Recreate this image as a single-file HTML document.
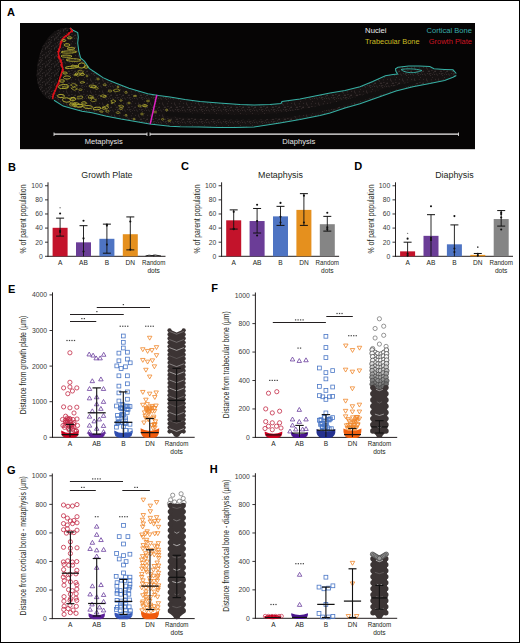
<!DOCTYPE html>
<html><head><meta charset="utf-8"><title>Figure</title>
<style>
html,body{margin:0;padding:0;background:#fff;}
body{width:520px;height:643px;overflow:hidden;position:relative;}
#fig{position:absolute;left:0;top:0;width:520px;height:643px;box-sizing:border-box;border:1px solid #000;}
svg{position:absolute;left:0;top:0;}
text{font-family:"Liberation Sans", sans-serif;}
</style></head>
<body><div id="fig"></div>
<svg width="520" height="643" viewBox="0 0 520 643" font-family='"Liberation Sans", sans-serif'>
<text x="7.00" y="16.20" font-size="11" font-weight="bold" fill="#000">A</text>
<rect x="20.00" y="23.00" width="455.00" height="126.20" fill="#060505" />
<defs><pattern id="epi" width="9" height="9" patternUnits="userSpaceOnUse"><circle cx="4.2" cy="3.4" r="0.6" fill="#363030"/><circle cx="1.2" cy="7.8" r="0.6" fill="#363030"/><circle cx="0.1" cy="4.5" r="0.6" fill="#363030"/><circle cx="8.1" cy="0.7" r="0.6" fill="#363030"/><circle cx="5.0" cy="5.5" r="0.6" fill="#363030"/><circle cx="0.4" cy="3.4" r="0.6" fill="#363030"/><circle cx="6.3" cy="4.1" r="0.6" fill="#363030"/><circle cx="6.5" cy="1.4" r="0.6" fill="#363030"/><circle cx="2.1" cy="1.0" r="0.6" fill="#363030"/><circle cx="4.6" cy="8.3" r="0.6" fill="#363030"/><circle cx="5.3" cy="7.0" r="0.6" fill="#363030"/><circle cx="3.5" cy="6.7" r="0.6" fill="#363030"/><circle cx="0.9" cy="2.6" r="0.6" fill="#363030"/><circle cx="6.1" cy="6.5" r="0.6" fill="#363030"/><circle cx="3.8" cy="0.8" r="0.6" fill="#363030"/><circle cx="2.4" cy="1.9" r="0.6" fill="#363030"/></pattern></defs>
<path d="M70,28 C64,27 58,29 54,32 C47,38 42,46 40,54 C37,62 36,72 37,80 C38,88 42,95 48,99 L53,100 L56,86 L59,75 L61,62 L60,50 L63,40 Z" fill="#141111"/>
<path d="M70,28 C64,27 58,29 54,32 C47,38 42,46 40,54 C37,62 36,72 37,80 C38,88 42,95 48,99 L53,100 L56,86 L59,75 L61,62 L60,50 L63,40 Z" fill="url(#epi)"/>
<path d="M70.2,28.0 L73.0,30.3 L77.7,32.6 L78.3,37.2 L77.7,43.0 L78.8,51.1 L80.6,58.0 L84.6,61.4 L89.2,68.4 L96.1,73.0 L103.0,77.6 L108.7,80.3 L115.5,83.0 L129.0,88.3 L147.8,93.7 L158.6,95.6 L170.0,97.0 L185.0,99.5 L200.0,101.5 L219.0,103.0 L240.0,104.5 L254.0,105.0 L270.0,104.5 L281.0,103.5 L282.0,101.5 L300.0,99.0 L315.0,96.0 L330.0,93.0 L345.0,90.5 L360.0,86.7 L372.7,81.4 L385.4,75.7 L393.0,74.5 L397.5,74.0 L395.8,71.0 L395.5,68.8 L398.0,67.3 L408.7,66.0 L419.2,66.0 L429.8,66.6 L434.0,68.8 L444.6,69.4 L453.0,69.8 L456.3,73.5 L456.3,75.5 L453.0,77.2 L444.6,80.4 L429.8,83.6 L412.9,86.7 L396.0,91.0 L381.2,96.3 L360.0,103.7 L345.0,108.0 L330.0,113.0 L320.0,115.5 L300.0,119.5 L280.0,123.0 L254.0,127.0 L235.0,127.5 L219.0,127.5 L200.0,127.0 L180.0,126.7 L169.9,126.3 L149.7,124.0 L135.3,121.4 L120.9,119.1 L106.5,116.2 L92.0,112.7 L82.0,111.3 L71.9,108.4 L63.2,106.1 L54.0,100.3 L52.5,99.0 L53.2,96.0 L53.5,93.7 L55.5,90.0 L56.7,87.0 L58.0,84.0 L59.4,80.0 L60.4,76.4 L61.5,73.0 L62.2,71.0 L62.7,68.4 L61.8,65.0 L61.5,62.6 L60.2,60.0 L59.2,56.8 L58.4,54.0 L58.7,51.1 L59.6,48.0 L60.4,45.3 L61.2,42.0 L62.1,39.5 L64.5,37.0 L67.3,34.9 L69.5,33.0 L71.9,30.9 L70.2,28.0 Z" fill="#161212"/>
<defs><pattern id="nuc" width="12" height="12" patternUnits="userSpaceOnUse"><circle cx="7.5" cy="8.9" r="0.5" fill="#3e3434"/><circle cx="9.5" cy="11.3" r="0.5" fill="#3e3434"/><circle cx="8.9" cy="11.1" r="0.5" fill="#3e3434"/><circle cx="0.3" cy="5.6" r="0.5" fill="#3e3434"/><circle cx="11.3" cy="7.8" r="0.5" fill="#3e3434"/><circle cx="10.8" cy="1.4" r="0.5" fill="#3e3434"/><circle cx="5.6" cy="3.0" r="0.5" fill="#3e3434"/><circle cx="6.5" cy="6.9" r="0.5" fill="#3e3434"/><circle cx="0.2" cy="2.6" r="0.5" fill="#3e3434"/><circle cx="3.4" cy="11.0" r="0.5" fill="#3e3434"/><circle cx="9.2" cy="1.9" r="0.5" fill="#3e3434"/><circle cx="9.6" cy="1.7" r="0.5" fill="#3e3434"/><circle cx="7.4" cy="1.5" r="0.5" fill="#3e3434"/><circle cx="0.0" cy="10.5" r="0.5" fill="#3e3434"/><circle cx="2.5" cy="2.6" r="0.5" fill="#3e3434"/><circle cx="11.8" cy="10.5" r="0.5" fill="#3e3434"/><circle cx="3.5" cy="11.5" r="0.5" fill="#3e3434"/><circle cx="6.5" cy="8.1" r="0.5" fill="#3e3434"/><circle cx="2.5" cy="11.3" r="0.5" fill="#3e3434"/><circle cx="8.3" cy="11.6" r="0.5" fill="#3e3434"/><circle cx="10.7" cy="3.6" r="0.5" fill="#3e3434"/><circle cx="4.3" cy="2.0" r="0.5" fill="#3e3434"/><circle cx="1.7" cy="0.8" r="0.5" fill="#3e3434"/><circle cx="3.6" cy="7.2" r="0.5" fill="#3e3434"/></pattern></defs>
<path d="M70.2,28.0 L73.0,30.3 L77.7,32.6 L78.3,37.2 L77.7,43.0 L78.8,51.1 L80.6,58.0 L84.6,61.4 L89.2,68.4 L96.1,73.0 L103.0,77.6 L108.7,80.3 L115.5,83.0 L129.0,88.3 L147.8,93.7 L158.6,95.6 L170.0,97.0 L185.0,99.5 L200.0,101.5 L219.0,103.0 L240.0,104.5 L254.0,105.0 L270.0,104.5 L281.0,103.5 L282.0,101.5 L300.0,99.0 L315.0,96.0 L330.0,93.0 L345.0,90.5 L360.0,86.7 L372.7,81.4 L385.4,75.7 L393.0,74.5 L397.5,74.0 L395.8,71.0 L395.5,68.8 L398.0,67.3 L408.7,66.0 L419.2,66.0 L429.8,66.6 L434.0,68.8 L444.6,69.4 L453.0,69.8 L456.3,73.5 L456.3,75.5 L453.0,77.2 L444.6,80.4 L429.8,83.6 L412.9,86.7 L396.0,91.0 L381.2,96.3 L360.0,103.7 L345.0,108.0 L330.0,113.0 L320.0,115.5 L300.0,119.5 L280.0,123.0 L254.0,127.0 L235.0,127.5 L219.0,127.5 L200.0,127.0 L180.0,126.7 L169.9,126.3 L149.7,124.0 L135.3,121.4 L120.9,119.1 L106.5,116.2 L92.0,112.7 L82.0,111.3 L71.9,108.4 L63.2,106.1 L54.0,100.3 L52.5,99.0 L53.2,96.0 L53.5,93.7 L55.5,90.0 L56.7,87.0 L58.0,84.0 L59.4,80.0 L60.4,76.4 L61.5,73.0 L62.2,71.0 L62.7,68.4 L61.8,65.0 L61.5,62.6 L60.2,60.0 L59.2,56.8 L58.4,54.0 L58.7,51.1 L59.6,48.0 L60.4,45.3 L61.2,42.0 L62.1,39.5 L64.5,37.0 L67.3,34.9 L69.5,33.0 L71.9,30.9 L70.2,28.0 Z" fill="url(#nuc)"/>
<path d="M165,112 C200,114 240,116 270,114 C300,111 330,104 360,96 C380,90 400,84 420,80 L420,82 C400,88 380,95 360,101 C330,110 300,117 270,119 C240,121 200,119 165,116 Z" fill="#110f0f"/>
<path d="M70.2,28.0 L73.0,30.3 L77.7,32.6 L78.3,37.2 L77.7,43.0 L78.8,51.1 L80.6,58.0 L84.6,61.4 L89.2,68.4 L96.1,73.0 L103.0,77.6 L108.7,80.3 L115.5,83.0 L129.0,88.3 L147.8,93.7 L158.6,95.6 L170.0,97.0 L185.0,99.5 L200.0,101.5 L219.0,103.0 L240.0,104.5 L254.0,105.0 L270.0,104.5 L281.0,103.5 L282.0,101.5 L300.0,99.0 L315.0,96.0 L330.0,93.0 L345.0,90.5 L360.0,86.7 L372.7,81.4 L385.4,75.7 L393.0,74.5 L397.5,74.0 L395.8,71.0 L395.5,68.8 L398.0,67.3 L408.7,66.0 L419.2,66.0 L429.8,66.6 L434.0,68.8 L444.6,69.4 L453.0,69.8 L456.3,73.5" fill="none" stroke="#36b0a4" stroke-width="1.05"/>
<path d="M456.3,75.5 L453.0,77.2 L444.6,80.4 L429.8,83.6 L412.9,86.7 L396.0,91.0 L381.2,96.3 L360.0,103.7 L345.0,108.0 L330.0,113.0 L320.0,115.5 L300.0,119.5 L280.0,123.0 L254.0,127.0 L235.0,127.5 L219.0,127.5 L200.0,127.0 L180.0,126.7 L169.9,126.3 L149.7,124.0 L135.3,121.4 L120.9,119.1 L106.5,116.2 L92.0,112.7 L82.0,111.3 L71.9,108.4 L63.2,106.1 L54.0,100.3" fill="none" stroke="#36b0a4" stroke-width="1.05"/>
<path d="M401,69.5 C405,73.5 416,73.5 422,70.5 C415,68.5 406,68.5 401,69.5 Z" fill="none" stroke="#36b0a4" stroke-width="0.9"/>
<path d="M52.5,99.0 L53.2,96.0 L53.5,93.7 L55.5,90.0 L56.7,87.0 L58.0,84.0 L59.4,80.0 L60.4,76.4 L61.5,73.0 L62.2,71.0 L62.7,68.4 L61.8,65.0 L61.5,62.6 L60.2,60.0 L59.2,56.8 L58.4,54.0 L58.7,51.1 L59.6,48.0 L60.4,45.3 L61.2,42.0 L62.1,39.5 L64.5,37.0 L67.3,34.9 L69.5,33.0 L71.9,30.9 L70.2,28.0" fill="none" stroke="#d8121a" stroke-width="1.5"/>
<circle cx="52.8" cy="96.6" r="0.7" fill="#d8121a"/>
<circle cx="52.5" cy="96.5" r="0.8" fill="#d8121a"/>
<circle cx="53.5" cy="94.7" r="0.7" fill="#d8121a"/>
<circle cx="53.4" cy="94.5" r="1.0" fill="#d8121a"/>
<circle cx="54.3" cy="93.6" r="0.7" fill="#d8121a"/>
<circle cx="55.1" cy="90.7" r="1.0" fill="#d8121a"/>
<circle cx="55.4" cy="89.5" r="0.6" fill="#d8121a"/>
<circle cx="56.5" cy="87.7" r="0.7" fill="#d8121a"/>
<circle cx="56.3" cy="86.4" r="0.7" fill="#d8121a"/>
<circle cx="57.3" cy="85.3" r="1.0" fill="#d8121a"/>
<circle cx="58.6" cy="83.7" r="1.1" fill="#d8121a"/>
<circle cx="59.4" cy="81.0" r="1.0" fill="#d8121a"/>
<circle cx="59.4" cy="79.7" r="0.6" fill="#d8121a"/>
<circle cx="60.2" cy="77.2" r="0.7" fill="#d8121a"/>
<circle cx="61.3" cy="74.9" r="0.9" fill="#d8121a"/>
<circle cx="61.2" cy="76.0" r="0.6" fill="#d8121a"/>
<circle cx="62.8" cy="71.3" r="1.0" fill="#d8121a"/>
<circle cx="62.2" cy="71.1" r="0.7" fill="#d8121a"/>
<circle cx="62.8" cy="69.8" r="1.0" fill="#d8121a"/>
<circle cx="63.1" cy="70.0" r="0.6" fill="#d8121a"/>
<circle cx="61.5" cy="66.7" r="0.8" fill="#d8121a"/>
<circle cx="61.2" cy="65.0" r="1.1" fill="#d8121a"/>
<circle cx="61.8" cy="62.8" r="0.6" fill="#d8121a"/>
<circle cx="62.0" cy="63.9" r="0.6" fill="#d8121a"/>
<circle cx="60.5" cy="61.8" r="1.0" fill="#d8121a"/>
<circle cx="61.0" cy="60.2" r="1.0" fill="#d8121a"/>
<circle cx="58.9" cy="58.2" r="0.8" fill="#d8121a"/>
<circle cx="59.8" cy="57.6" r="0.6" fill="#d8121a"/>
<circle cx="58.5" cy="56.8" r="1.1" fill="#d8121a"/>
<circle cx="58.9" cy="56.5" r="0.8" fill="#d8121a"/>
<circle cx="58.1" cy="51.4" r="0.7" fill="#d8121a"/>
<circle cx="58.0" cy="51.8" r="0.7" fill="#d8121a"/>
<circle cx="59.5" cy="51.0" r="0.7" fill="#d8121a"/>
<circle cx="59.0" cy="49.5" r="1.1" fill="#d8121a"/>
<circle cx="60.3" cy="46.1" r="0.8" fill="#d8121a"/>
<circle cx="60.4" cy="47.3" r="0.7" fill="#d8121a"/>
<circle cx="60.6" cy="43.2" r="0.7" fill="#d8121a"/>
<circle cx="60.3" cy="43.8" r="0.9" fill="#d8121a"/>
<circle cx="60.5" cy="41.8" r="0.7" fill="#d8121a"/>
<circle cx="61.9" cy="41.8" r="0.9" fill="#d8121a"/>
<circle cx="64.2" cy="37.8" r="0.7" fill="#d8121a"/>
<circle cx="64.2" cy="37.1" r="0.8" fill="#d8121a"/>
<circle cx="66.2" cy="36.0" r="1.0" fill="#d8121a"/>
<circle cx="65.6" cy="36.6" r="0.8" fill="#d8121a"/>
<circle cx="68.4" cy="34.4" r="1.0" fill="#d8121a"/>
<circle cx="68.9" cy="33.3" r="1.1" fill="#d8121a"/>
<circle cx="72.1" cy="31.4" r="1.0" fill="#d8121a"/>
<circle cx="71.9" cy="30.9" r="1.0" fill="#d8121a"/>
<ellipse cx="69.6" cy="37.8" rx="2.3" ry="1.0" fill="none" stroke="#b3ad30" stroke-width="0.9" transform="rotate(-3.1 69.6 37.8)"/>
<ellipse cx="67" cy="45" rx="3" ry="1.3" fill="none" stroke="#b3ad30" stroke-width="0.9" transform="rotate(0.5 67 45)"/>
<ellipse cx="68.8" cy="52" rx="7.8" ry="1.1" fill="none" stroke="#b3ad30" stroke-width="0.9" transform="rotate(-1.6 68.8 52)"/>
<ellipse cx="66.5" cy="56.2" rx="5.5" ry="1.1" fill="none" stroke="#b3ad30" stroke-width="0.9" transform="rotate(1.2 66.5 56.2)"/>
<ellipse cx="73.5" cy="60" rx="7.5" ry="1.3" fill="none" stroke="#b3ad30" stroke-width="0.9" transform="rotate(1.5 73.5 60)"/>
<ellipse cx="72" cy="67.2" rx="7" ry="1.1" fill="none" stroke="#b3ad30" stroke-width="0.9" transform="rotate(-5.2 72 67.2)"/>
<ellipse cx="81.7" cy="65.5" rx="3.5" ry="2.6" fill="none" stroke="#b3ad30" stroke-width="0.9" transform="rotate(-5.8 81.7 65.5)"/>
<ellipse cx="65" cy="73" rx="2.3" ry="1.0" fill="none" stroke="#b3ad30" stroke-width="0.9" transform="rotate(4.0 65 73)"/>
<ellipse cx="76.5" cy="74" rx="1.2" ry="1" fill="none" stroke="#b3ad30" stroke-width="0.9" transform="rotate(-2.9 76.5 74)"/>
<ellipse cx="82.3" cy="74.4" rx="2.3" ry="0.9" fill="none" stroke="#b3ad30" stroke-width="0.9" transform="rotate(-3.2 82.3 74.4)"/>
<ellipse cx="64" cy="40.5" rx="1.8" ry="0.9" fill="none" stroke="#b3ad30" stroke-width="0.9" transform="rotate(5.9 64 40.5)"/>
<ellipse cx="71" cy="48.5" rx="4" ry="0.9" fill="none" stroke="#b3ad30" stroke-width="0.9" transform="rotate(-0.4 71 48.5)"/>
<ellipse cx="86" cy="67" rx="2" ry="1.2" fill="none" stroke="#b3ad30" stroke-width="0.9" transform="rotate(4.0 86 67)"/>
<ellipse cx="67" cy="77.5" rx="3.5" ry="1.6" fill="none" stroke="#b3ad30" stroke-width="0.9" transform="rotate(-0.3 67 77.5)"/>
<ellipse cx="62" cy="81" rx="2.5" ry="1.2" fill="none" stroke="#b3ad30" stroke-width="0.9" transform="rotate(1.7 62 81)"/>
<ellipse cx="63.5" cy="86.5" rx="5" ry="2" fill="none" stroke="#b3ad30" stroke-width="0.9" transform="rotate(-4.2 63.5 86.5)"/>
<ellipse cx="61" cy="96" rx="3.5" ry="1.6" fill="none" stroke="#b3ad30" stroke-width="0.9" transform="rotate(1.6 61 96)"/>
<ellipse cx="66.5" cy="100" rx="4" ry="2.2" fill="none" stroke="#b3ad30" stroke-width="0.9" transform="rotate(4.4 66.5 100)"/>
<ellipse cx="73" cy="99" rx="3" ry="1.5" fill="none" stroke="#b3ad30" stroke-width="0.9" transform="rotate(0.3 73 99)"/>
<ellipse cx="78" cy="105.5" rx="5.5" ry="1.5" fill="none" stroke="#b3ad30" stroke-width="0.9" transform="rotate(2.9 78 105.5)"/>
<ellipse cx="88" cy="107" rx="4.5" ry="1.5" fill="none" stroke="#b3ad30" stroke-width="0.9" transform="rotate(2.1 88 107)"/>
<ellipse cx="97" cy="108.5" rx="4" ry="1.3" fill="none" stroke="#b3ad30" stroke-width="0.9" transform="rotate(-5.2 97 108.5)"/>
<ellipse cx="84" cy="103" rx="2.5" ry="1.2" fill="none" stroke="#b3ad30" stroke-width="0.9" transform="rotate(3.1 84 103)"/>
<ellipse cx="75" cy="75" rx="1.4" ry="0.7" fill="none" stroke="#b3ad30" stroke-width="0.6"/>
<ellipse cx="87" cy="76" rx="0.9" ry="0.9" fill="none" stroke="#b3ad30" stroke-width="0.6"/>
<ellipse cx="98" cy="79" rx="1.3" ry="0.9" fill="none" stroke="#b3ad30" stroke-width="0.6"/>
<ellipse cx="96.6" cy="88.3" rx="1.7" ry="0.9" fill="none" stroke="#b3ad30" stroke-width="0.6"/>
<ellipse cx="80.4" cy="89.7" rx="1.7" ry="0.8" fill="none" stroke="#b3ad30" stroke-width="0.6"/>
<ellipse cx="104.7" cy="84.8" rx="1.6" ry="0.8" fill="none" stroke="#b3ad30" stroke-width="0.6"/>
<ellipse cx="110" cy="91" rx="1.7" ry="1.0" fill="none" stroke="#b3ad30" stroke-width="0.6"/>
<ellipse cx="118" cy="87" rx="1.0" ry="0.7" fill="none" stroke="#b3ad30" stroke-width="0.6"/>
<ellipse cx="126" cy="92.4" rx="1.1" ry="1.0" fill="none" stroke="#b3ad30" stroke-width="0.6"/>
<ellipse cx="104.7" cy="96.4" rx="1.3" ry="0.9" fill="none" stroke="#b3ad30" stroke-width="0.6"/>
<ellipse cx="91.2" cy="97.8" rx="1.2" ry="0.8" fill="none" stroke="#b3ad30" stroke-width="0.6"/>
<ellipse cx="121" cy="100.5" rx="1.2" ry="0.7" fill="none" stroke="#b3ad30" stroke-width="0.6"/>
<ellipse cx="129" cy="103" rx="1.4" ry="0.8" fill="none" stroke="#b3ad30" stroke-width="0.6"/>
<ellipse cx="139.7" cy="105.9" rx="1.7" ry="0.9" fill="none" stroke="#b3ad30" stroke-width="0.6"/>
<ellipse cx="121" cy="108.6" rx="1.7" ry="0.9" fill="none" stroke="#b3ad30" stroke-width="0.6"/>
<ellipse cx="118" cy="112.6" rx="1.8" ry="0.9" fill="none" stroke="#b3ad30" stroke-width="0.6"/>
<ellipse cx="126" cy="115.3" rx="1.0" ry="0.9" fill="none" stroke="#b3ad30" stroke-width="0.6"/>
<ellipse cx="107.4" cy="111.2" rx="1.8" ry="1.0" fill="none" stroke="#b3ad30" stroke-width="0.6"/>
<ellipse cx="142" cy="114" rx="1.4" ry="0.9" fill="none" stroke="#b3ad30" stroke-width="0.6"/>
<ellipse cx="162.6" cy="119.3" rx="1.1" ry="0.9" fill="none" stroke="#b3ad30" stroke-width="0.6"/>
<ellipse cx="169.4" cy="120.7" rx="1.4" ry="0.7" fill="none" stroke="#b3ad30" stroke-width="0.6"/>
<ellipse cx="166.7" cy="110" rx="1.0" ry="0.9" fill="none" stroke="#b3ad30" stroke-width="0.6"/>
<ellipse cx="135" cy="96" rx="1.8" ry="0.6" fill="none" stroke="#b3ad30" stroke-width="0.6"/>
<ellipse cx="148" cy="101" rx="1.6" ry="0.8" fill="none" stroke="#b3ad30" stroke-width="0.6"/>
<ellipse cx="112" cy="103" rx="1.0" ry="0.7" fill="none" stroke="#b3ad30" stroke-width="0.6"/>
<ellipse cx="155" cy="112" rx="1.6" ry="0.9" fill="none" stroke="#b3ad30" stroke-width="0.6"/>
<ellipse cx="134" cy="119" rx="0.9" ry="0.8" fill="none" stroke="#b3ad30" stroke-width="0.6"/>
<polygon points="76.2,105.2 73.3,105.9 70.1,105.8 69.3,104.1 73.8,103.7" fill="none" stroke="#b3ad30" stroke-width="0.65" stroke-linejoin="round"/>
<polygon points="108.7,105.1 107.8,105.5 106.6,105.6 106.8,104.8 108.2,104.4" fill="none" stroke="#b3ad30" stroke-width="0.65" stroke-linejoin="round"/>
<polygon points="79.3,104.0 77.0,104.7 74.4,105.3 72.4,104.1 75.4,102.5 77.4,102.6" fill="none" stroke="#b3ad30" stroke-width="0.65" stroke-linejoin="round"/>
<polygon points="106.6,96.0 103.9,97.4 100.1,96.0 102.9,94.7" fill="none" stroke="#b3ad30" stroke-width="0.65" stroke-linejoin="round"/>
<polygon points="77.6,89.0 74.2,90.3 71.1,88.2 74.6,87.3" fill="none" stroke="#b3ad30" stroke-width="0.65" stroke-linejoin="round"/>
<polygon points="74.6,66.5 74.2,67.1 72.1,67.1 70.9,66.6 72.0,64.9 74.4,65.4" fill="none" stroke="#b3ad30" stroke-width="0.65" stroke-linejoin="round"/>
<polygon points="108.9,107.1 106.7,109.0 102.2,107.2 106.3,106.0" fill="none" stroke="#b3ad30" stroke-width="0.65" stroke-linejoin="round"/>
<polygon points="84.9,82.4 82.9,83.0 81.7,83.2 79.9,82.4 81.8,81.5 82.9,81.4" fill="none" stroke="#b3ad30" stroke-width="0.65" stroke-linejoin="round"/>
<polygon points="106.4,108.4 104.3,109.5 101.6,108.4 104.6,107.0" fill="none" stroke="#b3ad30" stroke-width="0.65" stroke-linejoin="round"/>
<polygon points="83.6,71.9 81.4,73.1 78.4,72.9 77.8,70.9 81.1,70.1" fill="none" stroke="#b3ad30" stroke-width="0.65" stroke-linejoin="round"/>
<polygon points="77.6,65.9 76.8,66.9 75.2,66.5 74.9,65.8 77.0,65.3" fill="none" stroke="#b3ad30" stroke-width="0.65" stroke-linejoin="round"/>
<polygon points="96.1,86.6 93.7,88.1 90.5,87.0 93.7,85.7" fill="none" stroke="#b3ad30" stroke-width="0.65" stroke-linejoin="round"/>
<polygon points="77.4,85.3 73.5,86.9 70.5,84.9 73.3,83.3" fill="none" stroke="#b3ad30" stroke-width="0.65" stroke-linejoin="round"/>
<polygon points="96.4,99.7 95.4,101.3 92.4,101.7 90.6,100.5 92.5,98.3 94.7,99.1" fill="none" stroke="#b3ad30" stroke-width="0.65" stroke-linejoin="round"/>
<polygon points="147.7,105.7 146.7,106.2 143.7,106.4 144.3,104.6 146.5,104.9" fill="none" stroke="#b3ad30" stroke-width="0.65" stroke-linejoin="round"/>
<polygon points="123.9,106.4 122.1,107.2 119.8,107.0 118.5,105.8 121.4,105.1" fill="none" stroke="#b3ad30" stroke-width="0.65" stroke-linejoin="round"/>
<polygon points="146.5,105.6 145.8,107.1 142.6,106.3 142.0,105.4 143.0,105.0 144.9,104.5" fill="none" stroke="#b3ad30" stroke-width="0.65" stroke-linejoin="round"/>
<polygon points="82.7,97.9 81.6,98.6 77.8,99.0 77.9,97.5 77.6,96.3 82.5,96.2" fill="none" stroke="#b3ad30" stroke-width="0.65" stroke-linejoin="round"/>
<polygon points="103.2,111.5 102.5,112.4 100.2,111.9 99.4,111.2 101.7,110.9" fill="none" stroke="#b3ad30" stroke-width="0.65" stroke-linejoin="round"/>
<polygon points="74.7,98.1 74.0,99.0 72.3,99.1 70.9,98.0 71.9,97.6 74.2,97.3" fill="none" stroke="#b3ad30" stroke-width="0.65" stroke-linejoin="round"/>
<polygon points="116.0,101.2 113.1,102.8 110.7,100.9 113.2,99.7" fill="none" stroke="#b3ad30" stroke-width="0.65" stroke-linejoin="round"/>
<polygon points="68.5,87.4 66.4,88.8 63.3,88.2 62.5,86.7 64.8,86.2 66.9,86.1" fill="none" stroke="#b3ad30" stroke-width="0.65" stroke-linejoin="round"/>
<polygon points="76.1,103.3 74.1,104.3 70.5,104.0 70.1,102.4 73.4,102.1" fill="none" stroke="#b3ad30" stroke-width="0.65" stroke-linejoin="round"/>
<polygon points="96.6,86.2 94.3,87.7 90.4,87.5 89.1,86.1 89.7,85.1 93.5,85.1" fill="none" stroke="#b3ad30" stroke-width="0.65" stroke-linejoin="round"/>
<polygon points="93.8,97.2 91.9,97.8 88.4,98.1 88.4,96.6 89.5,95.3 91.3,95.8" fill="none" stroke="#b3ad30" stroke-width="0.65" stroke-linejoin="round"/>
<polygon points="81.0,74.4 78.7,75.9 77.4,76.2 76.1,75.0 77.5,74.1 79.7,73.9" fill="none" stroke="#b3ad30" stroke-width="0.65" stroke-linejoin="round"/>
<polygon points="83.1,105.5 80.7,107.0 77.7,107.4 76.1,105.5 78.0,104.5 80.9,104.8" fill="none" stroke="#b3ad30" stroke-width="0.65" stroke-linejoin="round"/>
<polygon points="120.1,90.4 118.7,91.0 115.8,91.8 112.9,90.4 115.8,89.2 117.8,89.0" fill="none" stroke="#b3ad30" stroke-width="0.65" stroke-linejoin="round"/>
<line x1="156.80" y1="94.80" x2="150.20" y2="124.20" stroke="#e020c4" stroke-width="1.5" />
<line x1="54.00" y1="134.20" x2="147.00" y2="134.20" stroke="#f2f2f2" stroke-width="1.2" />
<line x1="54.00" y1="132.50" x2="54.00" y2="136.00" stroke="#f2f2f2" stroke-width="0.8" />
<line x1="147.00" y1="132.50" x2="147.00" y2="136.00" stroke="#f2f2f2" stroke-width="0.8" />
<line x1="150.00" y1="134.20" x2="458.50" y2="134.20" stroke="#f2f2f2" stroke-width="1.2" />
<line x1="150.00" y1="132.50" x2="150.00" y2="136.00" stroke="#f2f2f2" stroke-width="0.8" />
<line x1="458.50" y1="132.50" x2="458.50" y2="136.00" stroke="#f2f2f2" stroke-width="0.8" />
<text x="103.80" y="143.90" font-size="7.4" text-anchor="middle" font-weight="normal" fill="#e6e6e6" textLength="38" lengthAdjust="spacingAndGlyphs" >Metaphysis</text>
<text x="298.80" y="144.20" font-size="7.4" text-anchor="middle" font-weight="normal" fill="#e6e6e6" textLength="33" lengthAdjust="spacingAndGlyphs" >Diaphysis</text>
<text x="365.10" y="33.30" font-size="7.5" text-anchor="start" font-weight="normal" fill="#ececec" textLength="21.4" lengthAdjust="spacingAndGlyphs" >Nuclei</text>
<text x="426.50" y="33.30" font-size="7.5" text-anchor="start" font-weight="normal" fill="#3aabaa" textLength="45.4" lengthAdjust="spacingAndGlyphs" >Cortical Bone</text>
<text x="365.10" y="44.20" font-size="7.5" text-anchor="start" font-weight="normal" fill="#cbbd22" textLength="54.4" lengthAdjust="spacingAndGlyphs" >Trabecular Bone</text>
<text x="428.80" y="44.20" font-size="7.5" text-anchor="start" font-weight="normal" fill="#cc1422" textLength="43.1" lengthAdjust="spacingAndGlyphs" >Growth Plate</text>
<text x="8.00" y="170.90" font-size="11" font-weight="bold" fill="#000">B</text>
<text x="181.00" y="170.40" font-size="11" font-weight="bold" fill="#000">C</text>
<text x="354.20" y="170.40" font-size="11" font-weight="bold" fill="#000">D</text>
<line x1="48.00" y1="182.30" x2="48.00" y2="256.80" stroke="#231f20" stroke-width="1.0" />
<line x1="47.50" y1="256.30" x2="165.50" y2="256.30" stroke="#231f20" stroke-width="1.0" />
<line x1="45.00" y1="256.30" x2="48.00" y2="256.30" stroke="#231f20" stroke-width="0.9" />
<text x="42.70" y="258.70" font-size="6.8" text-anchor="end" font-weight="normal" fill="#3a3a3a" >0</text>
<line x1="45.00" y1="242.19" x2="48.00" y2="242.19" stroke="#231f20" stroke-width="0.9" />
<text x="42.70" y="244.59" font-size="6.8" text-anchor="end" font-weight="normal" fill="#3a3a3a" >20</text>
<line x1="45.00" y1="228.08" x2="48.00" y2="228.08" stroke="#231f20" stroke-width="0.9" />
<text x="42.70" y="230.48" font-size="6.8" text-anchor="end" font-weight="normal" fill="#3a3a3a" >40</text>
<line x1="45.00" y1="213.97" x2="48.00" y2="213.97" stroke="#231f20" stroke-width="0.9" />
<text x="42.70" y="216.37" font-size="6.8" text-anchor="end" font-weight="normal" fill="#3a3a3a" >60</text>
<line x1="45.00" y1="199.86" x2="48.00" y2="199.86" stroke="#231f20" stroke-width="0.9" />
<text x="42.70" y="202.26" font-size="6.8" text-anchor="end" font-weight="normal" fill="#3a3a3a" >80</text>
<line x1="45.00" y1="185.75" x2="48.00" y2="185.75" stroke="#231f20" stroke-width="0.9" />
<text x="42.70" y="188.15" font-size="6.8" text-anchor="end" font-weight="normal" fill="#3a3a3a" >100</text>
<text transform="translate(26.40,219.00) rotate(-90)" font-size="8.4" text-anchor="middle" fill="#231f20" textLength="69" lengthAdjust="spacingAndGlyphs">% of parent population</text>
<text x="106.90" y="177.50" font-size="8.9" text-anchor="middle" font-weight="normal" fill="#231f20" >Growth Plate</text>
<rect x="52.60" y="227.80" width="15.00" height="28.50" fill="#c3132b" />
<line x1="60.10" y1="218.13" x2="60.10" y2="236.12" stroke="#111" stroke-width="0.9" />
<line x1="56.10" y1="218.13" x2="64.10" y2="218.13" stroke="#111" stroke-width="1.0" />
<line x1="56.10" y1="236.12" x2="64.10" y2="236.12" stroke="#111" stroke-width="1.0" />
<circle cx="60.10" cy="207.69" r="0.7" fill="#777"/>
<circle cx="60.10" cy="213.48" r="1.05" fill="#111"/>
<circle cx="60.10" cy="230.90" r="1.05" fill="#111"/>
<circle cx="60.10" cy="231.96" r="1.05" fill="#111"/>
<text x="60.10" y="264.80" font-size="6.6" text-anchor="middle" font-weight="normal" fill="#231f20" >A</text>
<rect x="76.00" y="242.33" width="15.00" height="13.97" fill="#6b3d97" />
<line x1="83.50" y1="225.68" x2="83.50" y2="256.30" stroke="#111" stroke-width="0.9" />
<line x1="79.50" y1="225.68" x2="87.50" y2="225.68" stroke="#111" stroke-width="1.0" />
<circle cx="83.50" cy="220.81" r="1.05" fill="#111"/>
<circle cx="83.50" cy="238.38" r="1.05" fill="#111"/>
<circle cx="83.50" cy="251.50" r="1.05" fill="#111"/>
<text x="83.50" y="264.80" font-size="6.6" text-anchor="middle" font-weight="normal" fill="#231f20" >AB</text>
<rect x="99.40" y="238.80" width="15.00" height="17.50" fill="#4e74c3" />
<line x1="106.90" y1="224.13" x2="106.90" y2="253.20" stroke="#111" stroke-width="0.9" />
<line x1="102.90" y1="224.13" x2="110.90" y2="224.13" stroke="#111" stroke-width="1.0" />
<line x1="102.90" y1="253.20" x2="110.90" y2="253.20" stroke="#111" stroke-width="1.0" />
<circle cx="106.90" cy="224.55" r="1.05" fill="#111"/>
<circle cx="106.90" cy="225.61" r="1.05" fill="#111"/>
<circle cx="106.90" cy="244.59" r="1.05" fill="#111"/>
<text x="106.90" y="264.80" font-size="6.6" text-anchor="middle" font-weight="normal" fill="#231f20" >B</text>
<rect x="122.80" y="234.22" width="15.00" height="22.08" fill="#e5901e" />
<line x1="130.30" y1="216.93" x2="130.30" y2="249.88" stroke="#111" stroke-width="0.9" />
<line x1="126.30" y1="216.93" x2="134.30" y2="216.93" stroke="#111" stroke-width="1.0" />
<line x1="126.30" y1="249.88" x2="134.30" y2="249.88" stroke="#111" stroke-width="1.0" />
<circle cx="130.30" cy="221.52" r="1.05" fill="#111"/>
<circle cx="130.30" cy="249.60" r="1.05" fill="#111"/>
<text x="130.30" y="264.80" font-size="6.6" text-anchor="middle" font-weight="normal" fill="#231f20" >DN</text>
<circle cx="153.70" cy="255.74" r="0.8" fill="#222"/>
<circle cx="153.70" cy="255.45" r="0.7" fill="#222"/>
<text x="153.70" y="264.80" font-size="6.6" text-anchor="middle" font-weight="normal" fill="#231f20" textLength="23.5" lengthAdjust="spacingAndGlyphs" >Random</text>
<text x="153.70" y="272.70" font-size="6.6" text-anchor="middle" font-weight="normal" fill="#231f20" >dots</text>
<path d="M145.5,256 L149,255.2 L152,255.6 L155,255 L158,255.5 L161,256" stroke="#222" stroke-width="1" fill="none"/>
<line x1="221.60" y1="182.30" x2="221.60" y2="256.80" stroke="#231f20" stroke-width="1.0" />
<line x1="221.10" y1="256.30" x2="339.10" y2="256.30" stroke="#231f20" stroke-width="1.0" />
<line x1="218.60" y1="256.30" x2="221.60" y2="256.30" stroke="#231f20" stroke-width="0.9" />
<text x="216.30" y="258.70" font-size="6.8" text-anchor="end" font-weight="normal" fill="#3a3a3a" >0</text>
<line x1="218.60" y1="242.19" x2="221.60" y2="242.19" stroke="#231f20" stroke-width="0.9" />
<text x="216.30" y="244.59" font-size="6.8" text-anchor="end" font-weight="normal" fill="#3a3a3a" >20</text>
<line x1="218.60" y1="228.08" x2="221.60" y2="228.08" stroke="#231f20" stroke-width="0.9" />
<text x="216.30" y="230.48" font-size="6.8" text-anchor="end" font-weight="normal" fill="#3a3a3a" >40</text>
<line x1="218.60" y1="213.97" x2="221.60" y2="213.97" stroke="#231f20" stroke-width="0.9" />
<text x="216.30" y="216.37" font-size="6.8" text-anchor="end" font-weight="normal" fill="#3a3a3a" >60</text>
<line x1="218.60" y1="199.86" x2="221.60" y2="199.86" stroke="#231f20" stroke-width="0.9" />
<text x="216.30" y="202.26" font-size="6.8" text-anchor="end" font-weight="normal" fill="#3a3a3a" >80</text>
<line x1="218.60" y1="185.75" x2="221.60" y2="185.75" stroke="#231f20" stroke-width="0.9" />
<text x="216.30" y="188.15" font-size="6.8" text-anchor="end" font-weight="normal" fill="#3a3a3a" >100</text>
<text transform="translate(200.00,219.00) rotate(-90)" font-size="8.4" text-anchor="middle" fill="#231f20" textLength="69" lengthAdjust="spacingAndGlyphs">% of parent population</text>
<text x="280.50" y="177.50" font-size="8.9" text-anchor="middle" font-weight="normal" fill="#231f20" >Metaphysis</text>
<rect x="226.20" y="220.32" width="15.00" height="35.98" fill="#c3132b" />
<line x1="233.70" y1="209.88" x2="233.70" y2="229.07" stroke="#111" stroke-width="0.9" />
<line x1="229.70" y1="209.88" x2="237.70" y2="209.88" stroke="#111" stroke-width="1.0" />
<line x1="229.70" y1="229.07" x2="237.70" y2="229.07" stroke="#111" stroke-width="1.0" />
<circle cx="233.70" cy="211.85" r="1.05" fill="#111"/>
<circle cx="233.70" cy="228.79" r="1.05" fill="#111"/>
<circle cx="233.70" cy="229.14" r="1.05" fill="#111"/>
<text x="233.70" y="264.80" font-size="6.6" text-anchor="middle" font-weight="normal" fill="#231f20" >A</text>
<rect x="249.60" y="221.03" width="15.00" height="35.28" fill="#6b3d97" />
<line x1="257.10" y1="208.47" x2="257.10" y2="233.02" stroke="#111" stroke-width="0.9" />
<line x1="253.10" y1="208.47" x2="261.10" y2="208.47" stroke="#111" stroke-width="1.0" />
<line x1="253.10" y1="233.02" x2="261.10" y2="233.02" stroke="#111" stroke-width="1.0" />
<circle cx="257.10" cy="204.80" r="1.05" fill="#111"/>
<circle cx="257.10" cy="221.03" r="1.05" fill="#111"/>
<circle cx="257.10" cy="235.49" r="1.05" fill="#111"/>
<text x="257.10" y="264.80" font-size="6.6" text-anchor="middle" font-weight="normal" fill="#231f20" >AB</text>
<rect x="273.00" y="216.37" width="15.00" height="39.93" fill="#4e74c3" />
<line x1="280.50" y1="206.35" x2="280.50" y2="225.40" stroke="#111" stroke-width="0.9" />
<line x1="276.50" y1="206.35" x2="284.50" y2="206.35" stroke="#111" stroke-width="1.0" />
<line x1="276.50" y1="225.40" x2="284.50" y2="225.40" stroke="#111" stroke-width="1.0" />
<circle cx="280.50" cy="202.89" r="1.05" fill="#111"/>
<circle cx="280.50" cy="216.79" r="1.05" fill="#111"/>
<circle cx="280.50" cy="222.44" r="1.05" fill="#111"/>
<text x="280.50" y="264.80" font-size="6.6" text-anchor="middle" font-weight="normal" fill="#231f20" >B</text>
<rect x="296.40" y="209.88" width="15.00" height="46.42" fill="#e5901e" />
<line x1="303.90" y1="193.65" x2="303.90" y2="225.40" stroke="#111" stroke-width="0.9" />
<line x1="299.90" y1="193.65" x2="307.90" y2="193.65" stroke="#111" stroke-width="1.0" />
<line x1="299.90" y1="225.40" x2="307.90" y2="225.40" stroke="#111" stroke-width="1.0" />
<circle cx="303.90" cy="195.63" r="1.05" fill="#111"/>
<circle cx="303.90" cy="222.44" r="1.05" fill="#111"/>
<text x="303.90" y="264.80" font-size="6.6" text-anchor="middle" font-weight="normal" fill="#231f20" >DN</text>
<rect x="319.80" y="224.20" width="15.00" height="32.10" fill="#858585" />
<line x1="327.30" y1="216.37" x2="327.30" y2="231.11" stroke="#111" stroke-width="0.9" />
<line x1="323.30" y1="216.37" x2="331.30" y2="216.37" stroke="#111" stroke-width="1.0" />
<line x1="323.30" y1="231.11" x2="331.30" y2="231.11" stroke="#111" stroke-width="1.0" />
<circle cx="327.30" cy="212.70" r="1.05" fill="#111"/>
<circle cx="327.30" cy="227.37" r="1.05" fill="#111"/>
<circle cx="327.30" cy="229.14" r="1.05" fill="#111"/>
<text x="327.30" y="264.80" font-size="6.6" text-anchor="middle" font-weight="normal" fill="#231f20" textLength="23.5" lengthAdjust="spacingAndGlyphs" >Random</text>
<text x="327.30" y="272.70" font-size="6.6" text-anchor="middle" font-weight="normal" fill="#231f20" >dots</text>
<line x1="395.50" y1="182.30" x2="395.50" y2="256.80" stroke="#231f20" stroke-width="1.0" />
<line x1="395.00" y1="256.30" x2="513.00" y2="256.30" stroke="#231f20" stroke-width="1.0" />
<line x1="392.50" y1="256.30" x2="395.50" y2="256.30" stroke="#231f20" stroke-width="0.9" />
<text x="390.20" y="258.70" font-size="6.8" text-anchor="end" font-weight="normal" fill="#3a3a3a" >0</text>
<line x1="392.50" y1="242.19" x2="395.50" y2="242.19" stroke="#231f20" stroke-width="0.9" />
<text x="390.20" y="244.59" font-size="6.8" text-anchor="end" font-weight="normal" fill="#3a3a3a" >20</text>
<line x1="392.50" y1="228.08" x2="395.50" y2="228.08" stroke="#231f20" stroke-width="0.9" />
<text x="390.20" y="230.48" font-size="6.8" text-anchor="end" font-weight="normal" fill="#3a3a3a" >40</text>
<line x1="392.50" y1="213.97" x2="395.50" y2="213.97" stroke="#231f20" stroke-width="0.9" />
<text x="390.20" y="216.37" font-size="6.8" text-anchor="end" font-weight="normal" fill="#3a3a3a" >60</text>
<line x1="392.50" y1="199.86" x2="395.50" y2="199.86" stroke="#231f20" stroke-width="0.9" />
<text x="390.20" y="202.26" font-size="6.8" text-anchor="end" font-weight="normal" fill="#3a3a3a" >80</text>
<line x1="392.50" y1="185.75" x2="395.50" y2="185.75" stroke="#231f20" stroke-width="0.9" />
<text x="390.20" y="188.15" font-size="6.8" text-anchor="end" font-weight="normal" fill="#3a3a3a" >100</text>
<text transform="translate(373.90,219.00) rotate(-90)" font-size="8.4" text-anchor="middle" fill="#231f20" textLength="69" lengthAdjust="spacingAndGlyphs">% of parent population</text>
<text x="454.40" y="177.50" font-size="8.9" text-anchor="middle" font-weight="normal" fill="#231f20" >Diaphysis</text>
<rect x="400.10" y="251.36" width="15.00" height="4.94" fill="#c3132b" />
<line x1="407.60" y1="242.19" x2="407.60" y2="256.30" stroke="#111" stroke-width="0.9" />
<line x1="403.60" y1="242.19" x2="411.60" y2="242.19" stroke="#111" stroke-width="1.0" />
<circle cx="407.60" cy="233.37" r="0.7" fill="#777"/>
<circle cx="407.60" cy="238.66" r="1.05" fill="#111"/>
<circle cx="407.60" cy="253.83" r="1.05" fill="#111"/>
<circle cx="407.60" cy="255.59" r="1.05" fill="#111"/>
<text x="407.60" y="264.80" font-size="6.6" text-anchor="middle" font-weight="normal" fill="#231f20" >A</text>
<rect x="423.50" y="235.84" width="15.00" height="20.46" fill="#6b3d97" />
<line x1="431.00" y1="214.68" x2="431.00" y2="256.30" stroke="#111" stroke-width="0.9" />
<line x1="427.00" y1="214.68" x2="435.00" y2="214.68" stroke="#111" stroke-width="1.0" />
<circle cx="431.00" cy="206.21" r="1.05" fill="#111"/>
<circle cx="431.00" cy="237.96" r="1.05" fill="#111"/>
<circle cx="431.00" cy="240.07" r="1.05" fill="#111"/>
<text x="431.00" y="264.80" font-size="6.6" text-anchor="middle" font-weight="normal" fill="#231f20" >AB</text>
<rect x="446.90" y="244.31" width="15.00" height="11.99" fill="#4e74c3" />
<line x1="454.40" y1="224.91" x2="454.40" y2="256.30" stroke="#111" stroke-width="0.9" />
<line x1="450.40" y1="224.91" x2="458.40" y2="224.91" stroke="#111" stroke-width="1.0" />
<circle cx="454.40" cy="216.09" r="1.05" fill="#111"/>
<circle cx="454.40" cy="248.54" r="1.05" fill="#111"/>
<circle cx="454.40" cy="252.07" r="1.05" fill="#111"/>
<text x="454.40" y="264.80" font-size="6.6" text-anchor="middle" font-weight="normal" fill="#231f20" >B</text>
<rect x="470.30" y="254.89" width="15.00" height="1.41" fill="#e5901e" />
<line x1="477.80" y1="253.48" x2="477.80" y2="256.30" stroke="#111" stroke-width="0.9" />
<line x1="473.80" y1="253.48" x2="481.80" y2="253.48" stroke="#111" stroke-width="1.0" />
<circle cx="477.80" cy="247.13" r="0.8" fill="#333"/>
<circle cx="477.80" cy="253.83" r="1.05" fill="#111"/>
<circle cx="477.80" cy="255.59" r="1.05" fill="#111"/>
<text x="477.80" y="264.80" font-size="6.6" text-anchor="middle" font-weight="normal" fill="#231f20" >DN</text>
<rect x="493.70" y="219.05" width="15.00" height="37.25" fill="#858585" />
<line x1="501.20" y1="210.58" x2="501.20" y2="226.10" stroke="#111" stroke-width="0.9" />
<line x1="497.20" y1="210.58" x2="505.20" y2="210.58" stroke="#111" stroke-width="1.0" />
<line x1="497.20" y1="226.10" x2="505.20" y2="226.10" stroke="#111" stroke-width="1.0" />
<circle cx="501.20" cy="212.56" r="1.05" fill="#111"/>
<circle cx="501.20" cy="213.97" r="1.05" fill="#111"/>
<circle cx="501.20" cy="217.50" r="1.05" fill="#111"/>
<circle cx="501.20" cy="229.49" r="1.05" fill="#111"/>
<text x="501.20" y="264.80" font-size="6.6" text-anchor="middle" font-weight="normal" fill="#231f20" textLength="23.5" lengthAdjust="spacingAndGlyphs" >Random</text>
<text x="501.20" y="272.70" font-size="6.6" text-anchor="middle" font-weight="normal" fill="#231f20" >dots</text>
<text x="8.00" y="292.60" font-size="11" font-weight="bold" fill="#000">E</text>
<line x1="52.50" y1="292.40" x2="52.50" y2="437.80" stroke="#231f20" stroke-width="1.0" />
<line x1="52.00" y1="437.30" x2="194.70" y2="437.30" stroke="#231f20" stroke-width="1.0" />
<line x1="49.50" y1="437.30" x2="52.50" y2="437.30" stroke="#231f20" stroke-width="0.9" />
<text x="47.00" y="439.70" font-size="6.8" text-anchor="end" font-weight="normal" fill="#3a3a3a" >0</text>
<line x1="49.50" y1="401.70" x2="52.50" y2="401.70" stroke="#231f20" stroke-width="0.9" />
<text x="47.00" y="404.10" font-size="6.8" text-anchor="end" font-weight="normal" fill="#3a3a3a" >1000</text>
<line x1="49.50" y1="366.10" x2="52.50" y2="366.10" stroke="#231f20" stroke-width="0.9" />
<text x="47.00" y="368.50" font-size="6.8" text-anchor="end" font-weight="normal" fill="#3a3a3a" >2000</text>
<line x1="49.50" y1="330.50" x2="52.50" y2="330.50" stroke="#231f20" stroke-width="0.9" />
<text x="47.00" y="332.90" font-size="6.8" text-anchor="end" font-weight="normal" fill="#3a3a3a" >3000</text>
<line x1="49.50" y1="294.90" x2="52.50" y2="294.90" stroke="#231f20" stroke-width="0.9" />
<text x="47.00" y="297.30" font-size="6.8" text-anchor="end" font-weight="normal" fill="#3a3a3a" >4000</text>
<text x="70.00" y="446.00" font-size="6.6" text-anchor="middle" font-weight="normal" fill="#231f20" >A</text>
<text x="96.60" y="446.00" font-size="6.6" text-anchor="middle" font-weight="normal" fill="#231f20" >AB</text>
<text x="123.40" y="446.00" font-size="6.6" text-anchor="middle" font-weight="normal" fill="#231f20" >B</text>
<text x="149.90" y="446.00" font-size="6.6" text-anchor="middle" font-weight="normal" fill="#231f20" >DN</text>
<text x="176.60" y="446.00" font-size="6.6" text-anchor="middle" font-weight="normal" fill="#231f20" textLength="23.5" lengthAdjust="spacingAndGlyphs" >Random</text>
<text x="176.60" y="453.90" font-size="6.6" text-anchor="middle" font-weight="normal" fill="#231f20" >dots</text>
<text transform="translate(26.30,365.00) rotate(-90)" font-size="8.4" text-anchor="middle" fill="#231f20" textLength="98.4" lengthAdjust="spacingAndGlyphs">Distance from growth plate (µm)</text>
<line x1="70.00" y1="321.50" x2="96.25" y2="321.50" stroke="#231f20" stroke-width="1.0" />
<rect x="81.22" y="318.00" width="1.3" height="1.2" fill="#444"/>
<rect x="83.72" y="318.00" width="1.3" height="1.2" fill="#444"/>
<line x1="70.00" y1="314.50" x2="123.75" y2="314.50" stroke="#231f20" stroke-width="1.0" />
<rect x="96.22" y="311.00" width="1.3" height="1.2" fill="#444"/>
<line x1="96.75" y1="307.50" x2="150.00" y2="307.50" stroke="#231f20" stroke-width="1.0" />
<rect x="122.72" y="304.00" width="1.3" height="1.2" fill="#444"/>
<rect x="66.35" y="339.90" width="1.3" height="1.2" fill="#444"/>
<rect x="68.85" y="339.90" width="1.3" height="1.2" fill="#444"/>
<rect x="71.35" y="339.90" width="1.3" height="1.2" fill="#444"/>
<rect x="73.85" y="339.90" width="1.3" height="1.2" fill="#444"/>
<rect x="119.60" y="325.65" width="1.3" height="1.2" fill="#444"/>
<rect x="122.10" y="325.65" width="1.3" height="1.2" fill="#444"/>
<rect x="124.60" y="325.65" width="1.3" height="1.2" fill="#444"/>
<rect x="127.10" y="325.65" width="1.3" height="1.2" fill="#444"/>
<rect x="145.10" y="325.65" width="1.3" height="1.2" fill="#444"/>
<rect x="147.60" y="325.65" width="1.3" height="1.2" fill="#444"/>
<rect x="150.10" y="325.65" width="1.3" height="1.2" fill="#444"/>
<rect x="152.60" y="325.65" width="1.3" height="1.2" fill="#444"/>
<path d="M61.20,430.50 Q70.00,435.50 78.80,430.50 Q79.30,437.20 73.96,437.80 L66.04,437.80 Q60.70,437.20 61.20,430.50 Z" fill="#c8001f"/>
<circle cx="69.90" cy="352.80" r="2.1" fill="none" stroke="#c32a45" stroke-width="0.8"/>
<circle cx="69.90" cy="382.30" r="2.1" fill="none" stroke="#c32a45" stroke-width="0.8"/>
<circle cx="63.60" cy="387.90" r="2.1" fill="none" stroke="#c32a45" stroke-width="0.8"/>
<circle cx="69.90" cy="387.00" r="2.1" fill="none" stroke="#c32a45" stroke-width="0.8"/>
<circle cx="76.80" cy="387.90" r="2.1" fill="none" stroke="#c32a45" stroke-width="0.8"/>
<circle cx="67.80" cy="393.70" r="2.1" fill="none" stroke="#c32a45" stroke-width="0.8"/>
<circle cx="72.40" cy="391.00" r="2.1" fill="none" stroke="#c32a45" stroke-width="0.8"/>
<circle cx="63.60" cy="406.90" r="2.1" fill="none" stroke="#c32a45" stroke-width="0.8"/>
<circle cx="69.90" cy="407.80" r="2.1" fill="none" stroke="#c32a45" stroke-width="0.8"/>
<circle cx="76.80" cy="407.20" r="2.1" fill="none" stroke="#c32a45" stroke-width="0.8"/>
<circle cx="74.00" cy="413.00" r="2.1" fill="none" stroke="#c32a45" stroke-width="0.8"/>
<circle cx="65.60" cy="416.20" r="2.1" fill="none" stroke="#c32a45" stroke-width="0.8"/>
<circle cx="62.50" cy="419.50" r="2.1" fill="none" stroke="#c32a45" stroke-width="0.8"/>
<circle cx="77.00" cy="419.00" r="2.1" fill="none" stroke="#c32a45" stroke-width="0.8"/>
<circle cx="70.00" cy="419.20" r="2.1" fill="none" stroke="#c32a45" stroke-width="0.8"/>
<circle cx="66.00" cy="422.00" r="2.1" fill="none" stroke="#c32a45" stroke-width="0.8"/>
<circle cx="74.00" cy="422.50" r="2.1" fill="none" stroke="#c32a45" stroke-width="0.8"/>
<circle cx="63.00" cy="425.50" r="2.1" fill="none" stroke="#c32a45" stroke-width="0.8"/>
<circle cx="77.50" cy="425.50" r="2.1" fill="none" stroke="#c32a45" stroke-width="0.8"/>
<circle cx="69.50" cy="426.00" r="2.1" fill="none" stroke="#c32a45" stroke-width="0.8"/>
<circle cx="70.66" cy="424.37" r="2.1" fill="none" stroke="#c32a45" stroke-width="0.8"/>
<circle cx="69.56" cy="430.11" r="2.1" fill="none" stroke="#c32a45" stroke-width="0.8"/>
<circle cx="70.98" cy="425.06" r="2.1" fill="none" stroke="#c32a45" stroke-width="0.8"/>
<circle cx="70.12" cy="420.84" r="2.1" fill="none" stroke="#c32a45" stroke-width="0.8"/>
<circle cx="73.42" cy="426.58" r="2.1" fill="none" stroke="#c32a45" stroke-width="0.8"/>
<circle cx="68.12" cy="419.55" r="2.1" fill="none" stroke="#c32a45" stroke-width="0.8"/>
<circle cx="72.96" cy="419.50" r="2.1" fill="none" stroke="#c32a45" stroke-width="0.8"/>
<circle cx="64.55" cy="427.35" r="2.1" fill="none" stroke="#c32a45" stroke-width="0.8"/>
<circle cx="76.01" cy="430.79" r="2.1" fill="none" stroke="#c32a45" stroke-width="0.8"/>
<circle cx="71.36" cy="426.87" r="2.1" fill="none" stroke="#c32a45" stroke-width="0.8"/>
<circle cx="65.23" cy="420.46" r="2.1" fill="none" stroke="#c32a45" stroke-width="0.8"/>
<circle cx="65.02" cy="425.32" r="2.1" fill="none" stroke="#c32a45" stroke-width="0.8"/>
<circle cx="67.43" cy="420.92" r="2.1" fill="none" stroke="#c32a45" stroke-width="0.8"/>
<circle cx="69.67" cy="418.56" r="2.1" fill="none" stroke="#c32a45" stroke-width="0.8"/>
<circle cx="73.75" cy="424.22" r="2.1" fill="none" stroke="#c32a45" stroke-width="0.8"/>
<circle cx="71.58" cy="425.21" r="2.1" fill="none" stroke="#c32a45" stroke-width="0.8"/>
<circle cx="71.82" cy="424.96" r="2.1" fill="none" stroke="#c32a45" stroke-width="0.8"/>
<circle cx="67.55" cy="424.43" r="2.1" fill="none" stroke="#c32a45" stroke-width="0.8"/>
<circle cx="76.44" cy="430.97" r="2.1" fill="none" stroke="#c32a45" stroke-width="0.8"/>
<circle cx="72.58" cy="429.11" r="2.1" fill="none" stroke="#c32a45" stroke-width="0.8"/>
<circle cx="67.17" cy="422.60" r="2.1" fill="none" stroke="#c32a45" stroke-width="0.8"/>
<circle cx="65.54" cy="422.25" r="2.1" fill="none" stroke="#c32a45" stroke-width="0.8"/>
<circle cx="68.79" cy="428.23" r="2.1" fill="none" stroke="#c32a45" stroke-width="0.8"/>
<circle cx="68.59" cy="429.19" r="2.1" fill="none" stroke="#c32a45" stroke-width="0.8"/>
<circle cx="74.46" cy="430.51" r="2.1" fill="none" stroke="#c32a45" stroke-width="0.8"/>
<circle cx="67.36" cy="418.02" r="2.1" fill="none" stroke="#c32a45" stroke-width="0.8"/>
<line x1="70.00" y1="424.40" x2="70.00" y2="437.00" stroke="#111" stroke-width="1.1" />
<line x1="65.90" y1="424.40" x2="74.10" y2="424.40" stroke="#111" stroke-width="1.2000000000000002" />
<line x1="61.50" y1="434.60" x2="78.50" y2="434.60" stroke="#111" stroke-width="1.25" />
<path d="M88.10,431.50 Q96.60,436.50 105.10,431.50 Q105.60,437.20 100.42,437.80 L92.77,437.80 Q87.60,437.20 88.10,431.50 Z" fill="#5b1f97"/>
<polygon points="86.95,355.95 91.45,355.95 89.20,352.05" fill="none" stroke="#6a3d9d" stroke-width="0.8" stroke-linejoin="miter"/>
<polygon points="90.85,357.05 95.35,357.05 93.10,353.15" fill="none" stroke="#6a3d9d" stroke-width="0.8" stroke-linejoin="miter"/>
<polygon points="93.95,359.85 98.45,359.85 96.20,355.95" fill="none" stroke="#6a3d9d" stroke-width="0.8" stroke-linejoin="miter"/>
<polygon points="97.85,359.85 102.35,359.85 100.10,355.95" fill="none" stroke="#6a3d9d" stroke-width="0.8" stroke-linejoin="miter"/>
<polygon points="101.45,356.25 105.95,356.25 103.70,352.35" fill="none" stroke="#6a3d9d" stroke-width="0.8" stroke-linejoin="miter"/>
<polygon points="90.05,382.65 94.55,382.65 92.30,378.75" fill="none" stroke="#6a3d9d" stroke-width="0.8" stroke-linejoin="miter"/>
<polygon points="98.65,380.85 103.15,380.85 100.90,376.95" fill="none" stroke="#6a3d9d" stroke-width="0.8" stroke-linejoin="miter"/>
<polygon points="87.25,390.45 91.75,390.45 89.50,386.55" fill="none" stroke="#6a3d9d" stroke-width="0.8" stroke-linejoin="miter"/>
<polygon points="101.25,390.45 105.75,390.45 103.50,386.55" fill="none" stroke="#6a3d9d" stroke-width="0.8" stroke-linejoin="miter"/>
<polygon points="87.25,399.85 91.75,399.85 89.50,395.95" fill="none" stroke="#6a3d9d" stroke-width="0.8" stroke-linejoin="miter"/>
<polygon points="94.45,398.75 98.95,398.75 96.70,394.85" fill="none" stroke="#6a3d9d" stroke-width="0.8" stroke-linejoin="miter"/>
<polygon points="101.25,403.35 105.75,403.35 103.50,399.45" fill="none" stroke="#6a3d9d" stroke-width="0.8" stroke-linejoin="miter"/>
<polygon points="94.45,405.75 98.95,405.75 96.70,401.85" fill="none" stroke="#6a3d9d" stroke-width="0.8" stroke-linejoin="miter"/>
<polygon points="98.65,410.35 103.15,410.35 100.90,406.45" fill="none" stroke="#6a3d9d" stroke-width="0.8" stroke-linejoin="miter"/>
<polygon points="90.05,412.75 94.55,412.75 92.30,408.85" fill="none" stroke="#6a3d9d" stroke-width="0.8" stroke-linejoin="miter"/>
<polygon points="87.25,418.15 91.75,418.15 89.50,414.25" fill="none" stroke="#6a3d9d" stroke-width="0.8" stroke-linejoin="miter"/>
<polygon points="101.25,417.35 105.75,417.35 103.50,413.45" fill="none" stroke="#6a3d9d" stroke-width="0.8" stroke-linejoin="miter"/>
<polygon points="91.95,422.85 96.45,422.85 94.20,418.95" fill="none" stroke="#6a3d9d" stroke-width="0.8" stroke-linejoin="miter"/>
<polygon points="97.05,420.95 101.55,420.95 99.30,417.05" fill="none" stroke="#6a3d9d" stroke-width="0.8" stroke-linejoin="miter"/>
<polygon points="87.25,427.15 91.75,427.15 89.50,423.25" fill="none" stroke="#6a3d9d" stroke-width="0.8" stroke-linejoin="miter"/>
<polygon points="101.25,427.45 105.75,427.45 103.50,423.55" fill="none" stroke="#6a3d9d" stroke-width="0.8" stroke-linejoin="miter"/>
<polygon points="94.45,430.25 98.95,430.25 96.70,426.35" fill="none" stroke="#6a3d9d" stroke-width="0.8" stroke-linejoin="miter"/>
<polygon points="87.25,433.45 91.75,433.45 89.50,429.55" fill="none" stroke="#6a3d9d" stroke-width="0.8" stroke-linejoin="miter"/>
<polygon points="101.25,433.45 105.75,433.45 103.50,429.55" fill="none" stroke="#6a3d9d" stroke-width="0.8" stroke-linejoin="miter"/>
<line x1="96.70" y1="387.90" x2="96.70" y2="434.10" stroke="#111" stroke-width="1.1" />
<line x1="92.50" y1="387.90" x2="100.90" y2="387.90" stroke="#111" stroke-width="1.2000000000000002" />
<line x1="87.70" y1="412.80" x2="105.70" y2="412.80" stroke="#111" stroke-width="1.25" />
<line x1="92.50" y1="434.10" x2="100.90" y2="434.10" stroke="#111" stroke-width="1.2000000000000002" />
<path d="M114.20,430.50 Q123.40,435.50 132.60,430.50 Q133.10,437.20 127.54,437.80 L119.26,437.80 Q113.70,437.20 114.20,430.50 Z" fill="#2f4db0"/>
<rect x="121.40" y="334.10" width="3.8" height="3.8" fill="none" stroke="#4a77c6" stroke-width="0.8"/>
<rect x="121.40" y="340.40" width="3.8" height="3.8" fill="none" stroke="#4a77c6" stroke-width="0.8"/>
<rect x="121.40" y="346.10" width="3.8" height="3.8" fill="none" stroke="#4a77c6" stroke-width="0.8"/>
<rect x="117.00" y="351.20" width="3.8" height="3.8" fill="none" stroke="#4a77c6" stroke-width="0.8"/>
<rect x="125.50" y="350.30" width="3.8" height="3.8" fill="none" stroke="#4a77c6" stroke-width="0.8"/>
<rect x="117.00" y="358.90" width="3.8" height="3.8" fill="none" stroke="#4a77c6" stroke-width="0.8"/>
<rect x="125.50" y="357.20" width="3.8" height="3.8" fill="none" stroke="#4a77c6" stroke-width="0.8"/>
<rect x="128.30" y="360.90" width="3.8" height="3.8" fill="none" stroke="#4a77c6" stroke-width="0.8"/>
<rect x="114.90" y="364.00" width="3.8" height="3.8" fill="none" stroke="#4a77c6" stroke-width="0.8"/>
<rect x="123.50" y="364.90" width="3.8" height="3.8" fill="none" stroke="#4a77c6" stroke-width="0.8"/>
<rect x="119.20" y="366.60" width="3.8" height="3.8" fill="none" stroke="#4a77c6" stroke-width="0.8"/>
<rect x="117.00" y="373.90" width="3.8" height="3.8" fill="none" stroke="#4a77c6" stroke-width="0.8"/>
<rect x="125.50" y="373.90" width="3.8" height="3.8" fill="none" stroke="#4a77c6" stroke-width="0.8"/>
<rect x="125.50" y="381.90" width="3.8" height="3.8" fill="none" stroke="#4a77c6" stroke-width="0.8"/>
<rect x="117.00" y="384.20" width="3.8" height="3.8" fill="none" stroke="#4a77c6" stroke-width="0.8"/>
<rect x="117.00" y="391.00" width="3.8" height="3.8" fill="none" stroke="#4a77c6" stroke-width="0.8"/>
<rect x="125.50" y="390.00" width="3.8" height="3.8" fill="none" stroke="#4a77c6" stroke-width="0.8"/>
<rect x="125.50" y="397.30" width="3.8" height="3.8" fill="none" stroke="#4a77c6" stroke-width="0.8"/>
<rect x="117.00" y="399.10" width="3.8" height="3.8" fill="none" stroke="#4a77c6" stroke-width="0.8"/>
<rect x="114.60" y="404.10" width="3.8" height="3.8" fill="none" stroke="#4a77c6" stroke-width="0.8"/>
<rect x="128.10" y="404.60" width="3.8" height="3.8" fill="none" stroke="#4a77c6" stroke-width="0.8"/>
<rect x="121.10" y="403.10" width="3.8" height="3.8" fill="none" stroke="#4a77c6" stroke-width="0.8"/>
<rect x="123.54" y="415.90" width="3.8" height="3.8" fill="none" stroke="#4a77c6" stroke-width="0.8"/>
<rect x="116.57" y="420.84" width="3.8" height="3.8" fill="none" stroke="#4a77c6" stroke-width="0.8"/>
<rect x="120.16" y="402.56" width="3.8" height="3.8" fill="none" stroke="#4a77c6" stroke-width="0.8"/>
<rect x="125.24" y="410.52" width="3.8" height="3.8" fill="none" stroke="#4a77c6" stroke-width="0.8"/>
<rect x="122.91" y="421.45" width="3.8" height="3.8" fill="none" stroke="#4a77c6" stroke-width="0.8"/>
<rect x="123.65" y="418.08" width="3.8" height="3.8" fill="none" stroke="#4a77c6" stroke-width="0.8"/>
<rect x="120.81" y="406.86" width="3.8" height="3.8" fill="none" stroke="#4a77c6" stroke-width="0.8"/>
<rect x="126.18" y="407.35" width="3.8" height="3.8" fill="none" stroke="#4a77c6" stroke-width="0.8"/>
<rect x="125.01" y="404.21" width="3.8" height="3.8" fill="none" stroke="#4a77c6" stroke-width="0.8"/>
<rect x="123.57" y="404.71" width="3.8" height="3.8" fill="none" stroke="#4a77c6" stroke-width="0.8"/>
<rect x="120.32" y="412.24" width="3.8" height="3.8" fill="none" stroke="#4a77c6" stroke-width="0.8"/>
<rect x="114.50" y="425.24" width="3.8" height="3.8" fill="none" stroke="#4a77c6" stroke-width="0.8"/>
<rect x="126.07" y="404.27" width="3.8" height="3.8" fill="none" stroke="#4a77c6" stroke-width="0.8"/>
<rect x="116.13" y="416.80" width="3.8" height="3.8" fill="none" stroke="#4a77c6" stroke-width="0.8"/>
<rect x="128.27" y="428.79" width="3.8" height="3.8" fill="none" stroke="#4a77c6" stroke-width="0.8"/>
<rect x="120.63" y="405.88" width="3.8" height="3.8" fill="none" stroke="#4a77c6" stroke-width="0.8"/>
<rect x="119.36" y="406.56" width="3.8" height="3.8" fill="none" stroke="#4a77c6" stroke-width="0.8"/>
<rect x="116.92" y="419.70" width="3.8" height="3.8" fill="none" stroke="#4a77c6" stroke-width="0.8"/>
<rect x="115.25" y="421.61" width="3.8" height="3.8" fill="none" stroke="#4a77c6" stroke-width="0.8"/>
<rect x="125.15" y="407.62" width="3.8" height="3.8" fill="none" stroke="#4a77c6" stroke-width="0.8"/>
<rect x="120.47" y="413.95" width="3.8" height="3.8" fill="none" stroke="#4a77c6" stroke-width="0.8"/>
<rect x="121.19" y="419.05" width="3.8" height="3.8" fill="none" stroke="#4a77c6" stroke-width="0.8"/>
<rect x="115.60" y="413.52" width="3.8" height="3.8" fill="none" stroke="#4a77c6" stroke-width="0.8"/>
<rect x="128.07" y="422.35" width="3.8" height="3.8" fill="none" stroke="#4a77c6" stroke-width="0.8"/>
<rect x="123.97" y="428.52" width="3.8" height="3.8" fill="none" stroke="#4a77c6" stroke-width="0.8"/>
<rect x="119.80" y="412.77" width="3.8" height="3.8" fill="none" stroke="#4a77c6" stroke-width="0.8"/>
<rect x="123.92" y="421.44" width="3.8" height="3.8" fill="none" stroke="#4a77c6" stroke-width="0.8"/>
<rect x="118.51" y="405.92" width="3.8" height="3.8" fill="none" stroke="#4a77c6" stroke-width="0.8"/>
<rect x="121.64" y="412.95" width="3.8" height="3.8" fill="none" stroke="#4a77c6" stroke-width="0.8"/>
<rect x="121.50" y="424.44" width="3.8" height="3.8" fill="none" stroke="#4a77c6" stroke-width="0.8"/>
<line x1="123.30" y1="391.90" x2="123.30" y2="437.00" stroke="#111" stroke-width="1.1" />
<line x1="119.10" y1="391.90" x2="127.50" y2="391.90" stroke="#111" stroke-width="1.2000000000000002" />
<line x1="114.30" y1="422.30" x2="132.30" y2="422.30" stroke="#111" stroke-width="1.25" />
<path d="M140.60,428.30 Q149.90,433.90 159.20,428.30 Q159.70,437.20 154.09,437.80 L145.72,437.80 Q140.10,437.20 140.60,428.30 Z" fill="#f05a0c"/>
<polygon points="147.45,336.25 151.95,336.25 149.70,340.15" fill="none" stroke="#f0862a" stroke-width="0.8" stroke-linejoin="miter"/>
<polygon points="140.55,347.75 145.05,347.75 142.80,351.65" fill="none" stroke="#f0862a" stroke-width="0.8" stroke-linejoin="miter"/>
<polygon points="145.35,349.45 149.85,349.45 147.60,353.35" fill="none" stroke="#f0862a" stroke-width="0.8" stroke-linejoin="miter"/>
<polygon points="149.65,348.55 154.15,348.55 151.90,352.45" fill="none" stroke="#f0862a" stroke-width="0.8" stroke-linejoin="miter"/>
<polygon points="154.25,345.65 158.75,345.65 156.50,349.55" fill="none" stroke="#f0862a" stroke-width="0.8" stroke-linejoin="miter"/>
<polygon points="154.25,353.65 158.75,353.65 156.50,357.55" fill="none" stroke="#f0862a" stroke-width="0.8" stroke-linejoin="miter"/>
<polygon points="140.55,358.45 145.05,358.45 142.80,362.35" fill="none" stroke="#f0862a" stroke-width="0.8" stroke-linejoin="miter"/>
<polygon points="145.35,360.15 149.85,360.15 147.60,364.05" fill="none" stroke="#f0862a" stroke-width="0.8" stroke-linejoin="miter"/>
<polygon points="150.15,358.85 154.65,358.85 152.40,362.75" fill="none" stroke="#f0862a" stroke-width="0.8" stroke-linejoin="miter"/>
<polygon points="152.15,364.85 156.65,364.85 154.40,368.75" fill="none" stroke="#f0862a" stroke-width="0.8" stroke-linejoin="miter"/>
<polygon points="143.65,368.25 148.15,368.25 145.90,372.15" fill="none" stroke="#f0862a" stroke-width="0.8" stroke-linejoin="miter"/>
<polygon points="147.45,375.05 151.95,375.05 149.70,378.95" fill="none" stroke="#f0862a" stroke-width="0.8" stroke-linejoin="miter"/>
<polygon points="140.55,390.45 145.05,390.45 142.80,394.35" fill="none" stroke="#f0862a" stroke-width="0.8" stroke-linejoin="miter"/>
<polygon points="147.45,392.15 151.95,392.15 149.70,396.05" fill="none" stroke="#f0862a" stroke-width="0.8" stroke-linejoin="miter"/>
<polygon points="153.95,390.95 158.45,390.95 156.20,394.85" fill="none" stroke="#f0862a" stroke-width="0.8" stroke-linejoin="miter"/>
<polygon points="152.55,395.55 157.05,395.55 154.80,399.45" fill="none" stroke="#f0862a" stroke-width="0.8" stroke-linejoin="miter"/>
<polygon points="143.65,398.15 148.15,398.15 145.90,402.05" fill="none" stroke="#f0862a" stroke-width="0.8" stroke-linejoin="miter"/>
<polygon points="140.55,403.25 145.05,403.25 142.80,407.15" fill="none" stroke="#f0862a" stroke-width="0.8" stroke-linejoin="miter"/>
<polygon points="153.75,404.05 158.25,404.05 156.00,407.95" fill="none" stroke="#f0862a" stroke-width="0.8" stroke-linejoin="miter"/>
<polygon points="150.16,409.46 154.66,409.46 152.41,413.36" fill="none" stroke="#f0862a" stroke-width="0.8" stroke-linejoin="miter"/>
<polygon points="153.14,419.82 157.64,419.82 155.39,423.71" fill="none" stroke="#f0862a" stroke-width="0.8" stroke-linejoin="miter"/>
<polygon points="144.10,407.55 148.60,407.55 146.35,411.44" fill="none" stroke="#f0862a" stroke-width="0.8" stroke-linejoin="miter"/>
<polygon points="144.09,406.51 148.59,406.51 146.34,410.40" fill="none" stroke="#f0862a" stroke-width="0.8" stroke-linejoin="miter"/>
<polygon points="141.75,420.98 146.25,420.98 144.00,424.88" fill="none" stroke="#f0862a" stroke-width="0.8" stroke-linejoin="miter"/>
<polygon points="143.37,416.20 147.87,416.20 145.62,420.10" fill="none" stroke="#f0862a" stroke-width="0.8" stroke-linejoin="miter"/>
<polygon points="146.71,410.38 151.21,410.38 148.96,414.27" fill="none" stroke="#f0862a" stroke-width="0.8" stroke-linejoin="miter"/>
<polygon points="149.43,423.37 153.93,423.37 151.68,427.26" fill="none" stroke="#f0862a" stroke-width="0.8" stroke-linejoin="miter"/>
<polygon points="144.93,402.60 149.43,402.60 147.18,406.50" fill="none" stroke="#f0862a" stroke-width="0.8" stroke-linejoin="miter"/>
<polygon points="152.46,406.50 156.96,406.50 154.71,410.39" fill="none" stroke="#f0862a" stroke-width="0.8" stroke-linejoin="miter"/>
<polygon points="152.64,422.73 157.14,422.73 154.89,426.62" fill="none" stroke="#f0862a" stroke-width="0.8" stroke-linejoin="miter"/>
<polygon points="151.66,423.11 156.16,423.11 153.91,427.01" fill="none" stroke="#f0862a" stroke-width="0.8" stroke-linejoin="miter"/>
<polygon points="152.63,425.91 157.13,425.91 154.88,429.81" fill="none" stroke="#f0862a" stroke-width="0.8" stroke-linejoin="miter"/>
<polygon points="152.39,409.40 156.89,409.40 154.64,413.30" fill="none" stroke="#f0862a" stroke-width="0.8" stroke-linejoin="miter"/>
<polygon points="151.41,415.13 155.91,415.13 153.66,419.03" fill="none" stroke="#f0862a" stroke-width="0.8" stroke-linejoin="miter"/>
<polygon points="146.59,416.99 151.09,416.99 148.84,420.88" fill="none" stroke="#f0862a" stroke-width="0.8" stroke-linejoin="miter"/>
<polygon points="146.66,412.12 151.16,412.12 148.91,416.02" fill="none" stroke="#f0862a" stroke-width="0.8" stroke-linejoin="miter"/>
<polygon points="142.35,410.86 146.85,410.86 144.60,414.76" fill="none" stroke="#f0862a" stroke-width="0.8" stroke-linejoin="miter"/>
<polygon points="152.53,422.95 157.03,422.95 154.78,426.85" fill="none" stroke="#f0862a" stroke-width="0.8" stroke-linejoin="miter"/>
<polygon points="150.92,426.73 155.42,426.73 153.17,430.63" fill="none" stroke="#f0862a" stroke-width="0.8" stroke-linejoin="miter"/>
<polygon points="151.39,416.75 155.89,416.75 153.64,420.65" fill="none" stroke="#f0862a" stroke-width="0.8" stroke-linejoin="miter"/>
<polygon points="149.93,406.17 154.43,406.17 152.18,410.07" fill="none" stroke="#f0862a" stroke-width="0.8" stroke-linejoin="miter"/>
<polygon points="142.95,414.08 147.45,414.08 145.20,417.97" fill="none" stroke="#f0862a" stroke-width="0.8" stroke-linejoin="miter"/>
<polygon points="147.95,407.99 152.45,407.99 150.20,411.89" fill="none" stroke="#f0862a" stroke-width="0.8" stroke-linejoin="miter"/>
<polygon points="147.10,409.32 151.60,409.32 149.35,413.21" fill="none" stroke="#f0862a" stroke-width="0.8" stroke-linejoin="miter"/>
<polygon points="146.05,417.97 150.55,417.97 148.30,421.86" fill="none" stroke="#f0862a" stroke-width="0.8" stroke-linejoin="miter"/>
<polygon points="147.53,406.06 152.03,406.06 149.78,409.96" fill="none" stroke="#f0862a" stroke-width="0.8" stroke-linejoin="miter"/>
<polygon points="144.10,408.85 148.60,408.85 146.35,412.75" fill="none" stroke="#f0862a" stroke-width="0.8" stroke-linejoin="miter"/>
<polygon points="145.88,407.78 150.38,407.78 148.13,411.68" fill="none" stroke="#f0862a" stroke-width="0.8" stroke-linejoin="miter"/>
<polygon points="149.55,404.43 154.05,404.43 151.80,408.33" fill="none" stroke="#f0862a" stroke-width="0.8" stroke-linejoin="miter"/>
<line x1="149.70" y1="418.50" x2="149.70" y2="437.00" stroke="#111" stroke-width="1.1" />
<line x1="145.50" y1="418.50" x2="153.90" y2="418.50" stroke="#111" stroke-width="1.2000000000000002" />
<line x1="140.70" y1="432.60" x2="158.70" y2="432.60" stroke="#111" stroke-width="1.25" />
<path d="M168.66,329.10 L176.60,332.60 L184.54,329.10 L184.54,430.80 L176.60,437.30 L168.66,430.80 Z" fill="#3c3434"/>
<circle cx="169.50" cy="330.36" r="2.1" fill="#3c3434"/>
<circle cx="183.70" cy="330.36" r="2.1" fill="#3c3434"/>
<circle cx="169.50" cy="334.41" r="2.1" fill="#3c3434"/>
<circle cx="183.70" cy="334.41" r="2.1" fill="#3c3434"/>
<circle cx="169.50" cy="338.46" r="2.1" fill="#3c3434"/>
<circle cx="183.70" cy="338.46" r="2.1" fill="#3c3434"/>
<circle cx="169.50" cy="342.51" r="2.1" fill="#3c3434"/>
<circle cx="183.70" cy="342.51" r="2.1" fill="#3c3434"/>
<circle cx="169.50" cy="346.56" r="2.1" fill="#3c3434"/>
<circle cx="183.70" cy="346.56" r="2.1" fill="#3c3434"/>
<circle cx="169.50" cy="350.61" r="2.1" fill="#3c3434"/>
<circle cx="183.70" cy="350.61" r="2.1" fill="#3c3434"/>
<circle cx="169.50" cy="354.66" r="2.1" fill="#3c3434"/>
<circle cx="183.70" cy="354.66" r="2.1" fill="#3c3434"/>
<circle cx="169.50" cy="358.71" r="2.1" fill="#3c3434"/>
<circle cx="183.70" cy="358.71" r="2.1" fill="#3c3434"/>
<circle cx="169.50" cy="362.76" r="2.1" fill="#3c3434"/>
<circle cx="183.70" cy="362.76" r="2.1" fill="#3c3434"/>
<circle cx="169.50" cy="366.81" r="2.1" fill="#3c3434"/>
<circle cx="183.70" cy="366.81" r="2.1" fill="#3c3434"/>
<circle cx="169.50" cy="370.86" r="2.1" fill="#3c3434"/>
<circle cx="183.70" cy="370.86" r="2.1" fill="#3c3434"/>
<circle cx="169.50" cy="374.91" r="2.1" fill="#3c3434"/>
<circle cx="183.70" cy="374.91" r="2.1" fill="#3c3434"/>
<circle cx="169.50" cy="378.96" r="2.1" fill="#3c3434"/>
<circle cx="183.70" cy="378.96" r="2.1" fill="#3c3434"/>
<circle cx="169.50" cy="383.01" r="2.1" fill="#3c3434"/>
<circle cx="183.70" cy="383.01" r="2.1" fill="#3c3434"/>
<circle cx="169.50" cy="387.06" r="2.1" fill="#3c3434"/>
<circle cx="183.70" cy="387.06" r="2.1" fill="#3c3434"/>
<circle cx="169.50" cy="391.11" r="2.1" fill="#3c3434"/>
<circle cx="183.70" cy="391.11" r="2.1" fill="#3c3434"/>
<circle cx="169.50" cy="395.16" r="2.1" fill="#3c3434"/>
<circle cx="183.70" cy="395.16" r="2.1" fill="#3c3434"/>
<circle cx="169.50" cy="399.21" r="2.1" fill="#3c3434"/>
<circle cx="183.70" cy="399.21" r="2.1" fill="#3c3434"/>
<circle cx="169.50" cy="403.26" r="2.1" fill="#3c3434"/>
<circle cx="183.70" cy="403.26" r="2.1" fill="#3c3434"/>
<circle cx="169.50" cy="407.31" r="2.1" fill="#3c3434"/>
<circle cx="183.70" cy="407.31" r="2.1" fill="#3c3434"/>
<circle cx="169.50" cy="411.36" r="2.1" fill="#3c3434"/>
<circle cx="183.70" cy="411.36" r="2.1" fill="#3c3434"/>
<circle cx="169.50" cy="415.41" r="2.1" fill="#3c3434"/>
<circle cx="183.70" cy="415.41" r="2.1" fill="#3c3434"/>
<circle cx="169.50" cy="419.46" r="2.1" fill="#3c3434"/>
<circle cx="183.70" cy="419.46" r="2.1" fill="#3c3434"/>
<circle cx="169.50" cy="423.51" r="2.1" fill="#3c3434"/>
<circle cx="183.70" cy="423.51" r="2.1" fill="#3c3434"/>
<circle cx="169.50" cy="427.56" r="2.1" fill="#3c3434"/>
<circle cx="183.70" cy="427.56" r="2.1" fill="#3c3434"/>
<circle cx="169.50" cy="431.61" r="2.1" fill="#3c3434"/>
<circle cx="183.70" cy="431.61" r="2.1" fill="#3c3434"/>
<circle cx="176.60" cy="433.80" r="3.3" fill="#3c3434"/>
<path d="M169.40,331.40 L176.60,334.20 L183.80,331.40" fill="none" stroke="#ffffff" stroke-opacity="0.45" stroke-width="0.6"/>
<path d="M169.40,339.50 L176.60,342.30 L183.80,339.50" fill="none" stroke="#ffffff" stroke-opacity="0.45" stroke-width="0.6"/>
<path d="M169.40,347.60 L176.60,350.40 L183.80,347.60" fill="none" stroke="#ffffff" stroke-opacity="0.85" stroke-width="0.6"/>
<path d="M169.40,355.70 L176.60,358.50 L183.80,355.70" fill="none" stroke="#ffffff" stroke-opacity="0.25" stroke-width="0.6"/>
<path d="M169.40,363.80 L176.60,366.60 L183.80,363.80" fill="none" stroke="#ffffff" stroke-opacity="0.65" stroke-width="0.6"/>
<path d="M169.40,371.90 L176.60,374.70 L183.80,371.90" fill="none" stroke="#ffffff" stroke-opacity="0.85" stroke-width="0.6"/>
<path d="M169.40,380.00 L176.60,382.80 L183.80,380.00" fill="none" stroke="#ffffff" stroke-opacity="0.65" stroke-width="0.6"/>
<path d="M169.40,388.10 L176.60,390.90 L183.80,388.10" fill="none" stroke="#ffffff" stroke-opacity="0.85" stroke-width="0.6"/>
<path d="M169.40,396.20 L176.60,399.00 L183.80,396.20" fill="none" stroke="#ffffff" stroke-opacity="0.45" stroke-width="0.6"/>
<path d="M169.40,404.30 L176.60,407.10 L183.80,404.30" fill="none" stroke="#ffffff" stroke-opacity="0.25" stroke-width="0.6"/>
<path d="M169.40,412.40 L176.60,415.20 L183.80,412.40" fill="none" stroke="#ffffff" stroke-opacity="0.65" stroke-width="0.6"/>
<path d="M169.40,420.50 L176.60,423.30 L183.80,420.50" fill="none" stroke="#ffffff" stroke-opacity="0.25" stroke-width="0.6"/>
<path d="M169.40,428.60 L176.60,431.40 L183.80,428.60" fill="none" stroke="#ffffff" stroke-opacity="0.85" stroke-width="0.6"/>
<line x1="176.60" y1="368.30" x2="176.60" y2="421.10" stroke="#111" stroke-width="1.1" />
<line x1="172.40" y1="368.30" x2="180.80" y2="368.30" stroke="#111" stroke-width="1.2000000000000002" />
<line x1="168.40" y1="400.40" x2="184.80" y2="400.40" stroke="#111" stroke-width="1.25" />
<line x1="172.40" y1="421.10" x2="180.80" y2="421.10" stroke="#111" stroke-width="1.2000000000000002" />
<text x="211.20" y="292.30" font-size="11" font-weight="bold" fill="#000">F</text>
<line x1="255.40" y1="292.50" x2="255.40" y2="437.90" stroke="#231f20" stroke-width="1.0" />
<line x1="254.90" y1="437.40" x2="397.20" y2="437.40" stroke="#231f20" stroke-width="1.0" />
<line x1="252.40" y1="437.40" x2="255.40" y2="437.40" stroke="#231f20" stroke-width="0.9" />
<text x="249.90" y="439.80" font-size="6.8" text-anchor="end" font-weight="normal" fill="#3a3a3a" >0</text>
<line x1="252.40" y1="408.95" x2="255.40" y2="408.95" stroke="#231f20" stroke-width="0.9" />
<text x="249.90" y="411.35" font-size="6.8" text-anchor="end" font-weight="normal" fill="#3a3a3a" >200</text>
<line x1="252.40" y1="380.50" x2="255.40" y2="380.50" stroke="#231f20" stroke-width="0.9" />
<text x="249.90" y="382.90" font-size="6.8" text-anchor="end" font-weight="normal" fill="#3a3a3a" >400</text>
<line x1="252.40" y1="352.05" x2="255.40" y2="352.05" stroke="#231f20" stroke-width="0.9" />
<text x="249.90" y="354.45" font-size="6.8" text-anchor="end" font-weight="normal" fill="#3a3a3a" >600</text>
<line x1="252.40" y1="323.60" x2="255.40" y2="323.60" stroke="#231f20" stroke-width="0.9" />
<text x="249.90" y="326.00" font-size="6.8" text-anchor="end" font-weight="normal" fill="#3a3a3a" >800</text>
<line x1="252.40" y1="295.15" x2="255.40" y2="295.15" stroke="#231f20" stroke-width="0.9" />
<text x="249.90" y="297.55" font-size="6.8" text-anchor="end" font-weight="normal" fill="#3a3a3a" >1000</text>
<text x="273.50" y="446.20" font-size="6.6" text-anchor="middle" font-weight="normal" fill="#231f20" >A</text>
<text x="299.50" y="446.20" font-size="6.6" text-anchor="middle" font-weight="normal" fill="#231f20" >AB</text>
<text x="325.90" y="446.20" font-size="6.6" text-anchor="middle" font-weight="normal" fill="#231f20" >B</text>
<text x="352.40" y="446.20" font-size="6.6" text-anchor="middle" font-weight="normal" fill="#231f20" >DN</text>
<text x="379.40" y="446.20" font-size="6.6" text-anchor="middle" font-weight="normal" fill="#231f20" textLength="23.5" lengthAdjust="spacingAndGlyphs" >Random</text>
<text x="379.40" y="454.10" font-size="6.6" text-anchor="middle" font-weight="normal" fill="#231f20" >dots</text>
<text transform="translate(228.90,364.70) rotate(-90)" font-size="8.4" text-anchor="middle" fill="#231f20" textLength="107" lengthAdjust="spacingAndGlyphs">Distance from trabecular bone (µm)</text>
<line x1="272.80" y1="322.50" x2="325.90" y2="322.50" stroke="#231f20" stroke-width="1.0" />
<rect x="294.95" y="319.30" width="1.3" height="1.2" fill="#444"/>
<rect x="297.45" y="319.30" width="1.3" height="1.2" fill="#444"/>
<rect x="299.95" y="319.30" width="1.3" height="1.2" fill="#444"/>
<rect x="302.45" y="319.30" width="1.3" height="1.2" fill="#444"/>
<line x1="326.30" y1="316.50" x2="352.80" y2="316.50" stroke="#231f20" stroke-width="1.0" />
<rect x="336.40" y="312.90" width="1.3" height="1.2" fill="#444"/>
<rect x="338.90" y="312.90" width="1.3" height="1.2" fill="#444"/>
<rect x="341.40" y="312.90" width="1.3" height="1.2" fill="#444"/>
<rect x="269.10" y="379.80" width="1.3" height="1.2" fill="#444"/>
<rect x="271.60" y="379.80" width="1.3" height="1.2" fill="#444"/>
<rect x="274.10" y="379.80" width="1.3" height="1.2" fill="#444"/>
<rect x="276.60" y="379.80" width="1.3" height="1.2" fill="#444"/>
<rect x="297.40" y="347.50" width="1.3" height="1.2" fill="#444"/>
<rect x="299.90" y="347.50" width="1.3" height="1.2" fill="#444"/>
<rect x="348.10" y="335.10" width="1.3" height="1.2" fill="#444"/>
<rect x="350.60" y="335.10" width="1.3" height="1.2" fill="#444"/>
<rect x="353.10" y="335.10" width="1.3" height="1.2" fill="#444"/>
<rect x="355.60" y="335.10" width="1.3" height="1.2" fill="#444"/>
<path d="M264.70,431.50 Q273.50,435.90 282.30,431.50 Q282.80,437.30 277.46,437.90 L269.54,437.90 Q264.20,437.30 264.70,431.50 Z" fill="#cc0020"/>
<circle cx="268.50" cy="393.20" r="2.1" fill="none" stroke="#c32a45" stroke-width="0.8"/>
<circle cx="276.80" cy="391.70" r="2.1" fill="none" stroke="#c32a45" stroke-width="0.8"/>
<circle cx="265.70" cy="408.90" r="2.1" fill="none" stroke="#c32a45" stroke-width="0.8"/>
<circle cx="272.30" cy="412.90" r="2.1" fill="none" stroke="#c32a45" stroke-width="0.8"/>
<circle cx="279.60" cy="411.20" r="2.1" fill="none" stroke="#c32a45" stroke-width="0.8"/>
<circle cx="265.70" cy="421.60" r="2.1" fill="none" stroke="#c32a45" stroke-width="0.8"/>
<circle cx="272.30" cy="422.80" r="2.1" fill="none" stroke="#c32a45" stroke-width="0.8"/>
<circle cx="279.60" cy="422.80" r="2.1" fill="none" stroke="#c32a45" stroke-width="0.8"/>
<circle cx="268.50" cy="426.20" r="2.1" fill="none" stroke="#c32a45" stroke-width="0.8"/>
<circle cx="276.50" cy="426.20" r="2.1" fill="none" stroke="#c32a45" stroke-width="0.8"/>
<circle cx="272.30" cy="429.70" r="2.1" fill="none" stroke="#c32a45" stroke-width="0.8"/>
<circle cx="265.00" cy="428.50" r="2.1" fill="none" stroke="#c32a45" stroke-width="0.8"/>
<circle cx="281.00" cy="428.00" r="2.1" fill="none" stroke="#c32a45" stroke-width="0.8"/>
<line x1="266.00" y1="434.90" x2="281.00" y2="434.90" stroke="#111" stroke-width="1.1" />
<path d="M290.90,432.00 Q299.50,436.40 308.10,432.00 Q308.60,437.30 303.37,437.90 L295.63,437.90 Q290.40,437.30 290.90,432.00 Z" fill="#4a1490"/>
<polygon points="290.25,360.95 294.75,360.95 292.50,357.05" fill="none" stroke="#6a3d9d" stroke-width="0.8" stroke-linejoin="miter"/>
<polygon points="297.05,362.45 301.55,362.45 299.30,358.55" fill="none" stroke="#6a3d9d" stroke-width="0.8" stroke-linejoin="miter"/>
<polygon points="303.75,361.75 308.25,361.75 306.00,357.85" fill="none" stroke="#6a3d9d" stroke-width="0.8" stroke-linejoin="miter"/>
<polygon points="297.05,411.35 301.55,411.35 299.30,407.45" fill="none" stroke="#6a3d9d" stroke-width="0.8" stroke-linejoin="miter"/>
<polygon points="290.25,420.95 294.75,420.95 292.50,417.05" fill="none" stroke="#6a3d9d" stroke-width="0.8" stroke-linejoin="miter"/>
<polygon points="303.75,420.95 308.25,420.95 306.00,417.05" fill="none" stroke="#6a3d9d" stroke-width="0.8" stroke-linejoin="miter"/>
<polygon points="297.05,423.35 301.55,423.35 299.30,419.45" fill="none" stroke="#6a3d9d" stroke-width="0.8" stroke-linejoin="miter"/>
<polygon points="290.25,426.95 294.75,426.95 292.50,423.05" fill="none" stroke="#6a3d9d" stroke-width="0.8" stroke-linejoin="miter"/>
<polygon points="293.55,430.95 298.05,430.95 295.80,427.05" fill="none" stroke="#6a3d9d" stroke-width="0.8" stroke-linejoin="miter"/>
<polygon points="300.35,430.95 304.85,430.95 302.60,427.05" fill="none" stroke="#6a3d9d" stroke-width="0.8" stroke-linejoin="miter"/>
<polygon points="303.75,430.45 308.25,430.45 306.00,426.55" fill="none" stroke="#6a3d9d" stroke-width="0.8" stroke-linejoin="miter"/>
<polygon points="287.75,432.95 292.25,432.95 290.00,429.05" fill="none" stroke="#6a3d9d" stroke-width="0.8" stroke-linejoin="miter"/>
<line x1="299.50" y1="425.40" x2="299.50" y2="437.00" stroke="#111" stroke-width="1.0" />
<line x1="295.30" y1="425.40" x2="303.70" y2="425.40" stroke="#111" stroke-width="1.1" />
<line x1="292.00" y1="433.10" x2="307.00" y2="433.10" stroke="#111" stroke-width="1.1" />
<path d="M316.40,429.00 Q325.90,433.40 335.40,429.00 Q335.90,437.30 330.17,437.90 L321.62,437.90 Q315.90,437.30 316.40,429.00 Z" fill="#24308f"/>
<rect x="324.00" y="334.40" width="3.8" height="3.8" fill="none" stroke="#4a77c6" stroke-width="0.8"/>
<rect x="324.00" y="345.60" width="3.8" height="3.8" fill="none" stroke="#4a77c6" stroke-width="0.8"/>
<rect x="324.00" y="355.70" width="3.8" height="3.8" fill="none" stroke="#4a77c6" stroke-width="0.8"/>
<rect x="317.50" y="366.10" width="3.8" height="3.8" fill="none" stroke="#4a77c6" stroke-width="0.8"/>
<rect x="324.00" y="370.70" width="3.8" height="3.8" fill="none" stroke="#4a77c6" stroke-width="0.8"/>
<rect x="330.80" y="368.70" width="3.8" height="3.8" fill="none" stroke="#4a77c6" stroke-width="0.8"/>
<rect x="324.00" y="377.00" width="3.8" height="3.8" fill="none" stroke="#4a77c6" stroke-width="0.8"/>
<rect x="317.50" y="384.50" width="3.8" height="3.8" fill="none" stroke="#4a77c6" stroke-width="0.8"/>
<rect x="330.80" y="385.10" width="3.8" height="3.8" fill="none" stroke="#4a77c6" stroke-width="0.8"/>
<rect x="324.00" y="388.50" width="3.8" height="3.8" fill="none" stroke="#4a77c6" stroke-width="0.8"/>
<rect x="317.50" y="393.70" width="3.8" height="3.8" fill="none" stroke="#4a77c6" stroke-width="0.8"/>
<rect x="320.90" y="394.90" width="3.8" height="3.8" fill="none" stroke="#4a77c6" stroke-width="0.8"/>
<rect x="327.50" y="394.90" width="3.8" height="3.8" fill="none" stroke="#4a77c6" stroke-width="0.8"/>
<rect x="330.80" y="394.40" width="3.8" height="3.8" fill="none" stroke="#4a77c6" stroke-width="0.8"/>
<rect x="324.00" y="397.50" width="3.8" height="3.8" fill="none" stroke="#4a77c6" stroke-width="0.8"/>
<rect x="324.00" y="411.00" width="3.8" height="3.8" fill="none" stroke="#4a77c6" stroke-width="0.8"/>
<rect x="317.50" y="418.30" width="3.8" height="3.8" fill="none" stroke="#4a77c6" stroke-width="0.8"/>
<rect x="330.80" y="415.70" width="3.8" height="3.8" fill="none" stroke="#4a77c6" stroke-width="0.8"/>
<rect x="326.02" y="417.47" width="3.8" height="3.8" fill="none" stroke="#4a77c6" stroke-width="0.8"/>
<rect x="323.74" y="423.07" width="3.8" height="3.8" fill="none" stroke="#4a77c6" stroke-width="0.8"/>
<rect x="327.18" y="418.12" width="3.8" height="3.8" fill="none" stroke="#4a77c6" stroke-width="0.8"/>
<rect x="324.17" y="425.00" width="3.8" height="3.8" fill="none" stroke="#4a77c6" stroke-width="0.8"/>
<rect x="320.81" y="421.59" width="3.8" height="3.8" fill="none" stroke="#4a77c6" stroke-width="0.8"/>
<rect x="322.73" y="415.17" width="3.8" height="3.8" fill="none" stroke="#4a77c6" stroke-width="0.8"/>
<rect x="318.66" y="422.51" width="3.8" height="3.8" fill="none" stroke="#4a77c6" stroke-width="0.8"/>
<rect x="320.46" y="424.85" width="3.8" height="3.8" fill="none" stroke="#4a77c6" stroke-width="0.8"/>
<rect x="319.00" y="418.33" width="3.8" height="3.8" fill="none" stroke="#4a77c6" stroke-width="0.8"/>
<rect x="327.34" y="427.07" width="3.8" height="3.8" fill="none" stroke="#4a77c6" stroke-width="0.8"/>
<rect x="325.57" y="425.74" width="3.8" height="3.8" fill="none" stroke="#4a77c6" stroke-width="0.8"/>
<rect x="322.29" y="415.67" width="3.8" height="3.8" fill="none" stroke="#4a77c6" stroke-width="0.8"/>
<rect x="319.37" y="421.50" width="3.8" height="3.8" fill="none" stroke="#4a77c6" stroke-width="0.8"/>
<rect x="322.18" y="426.58" width="3.8" height="3.8" fill="none" stroke="#4a77c6" stroke-width="0.8"/>
<rect x="327.36" y="417.34" width="3.8" height="3.8" fill="none" stroke="#4a77c6" stroke-width="0.8"/>
<rect x="328.47" y="416.95" width="3.8" height="3.8" fill="none" stroke="#4a77c6" stroke-width="0.8"/>
<rect x="324.62" y="420.99" width="3.8" height="3.8" fill="none" stroke="#4a77c6" stroke-width="0.8"/>
<rect x="323.83" y="419.68" width="3.8" height="3.8" fill="none" stroke="#4a77c6" stroke-width="0.8"/>
<rect x="319.03" y="417.75" width="3.8" height="3.8" fill="none" stroke="#4a77c6" stroke-width="0.8"/>
<rect x="320.42" y="425.64" width="3.8" height="3.8" fill="none" stroke="#4a77c6" stroke-width="0.8"/>
<rect x="320.16" y="424.70" width="3.8" height="3.8" fill="none" stroke="#4a77c6" stroke-width="0.8"/>
<rect x="329.47" y="426.76" width="3.8" height="3.8" fill="none" stroke="#4a77c6" stroke-width="0.8"/>
<line x1="325.90" y1="414.60" x2="325.90" y2="437.00" stroke="#111" stroke-width="1.0" />
<line x1="321.70" y1="414.60" x2="330.10" y2="414.60" stroke="#111" stroke-width="1.1" />
<line x1="317.00" y1="430.20" x2="335.00" y2="430.20" stroke="#111" stroke-width="1.2" />
<path d="M343.40,428.40 Q352.40,432.80 361.40,428.40 Q361.90,437.30 356.45,437.90 L348.35,437.90 Q342.90,437.30 343.40,428.40 Z" fill="#f06010"/>
<polygon points="343.55,344.05 348.05,344.05 345.80,347.95" fill="none" stroke="#f0862a" stroke-width="0.8" stroke-linejoin="miter"/>
<polygon points="350.25,348.55 354.75,348.55 352.50,352.45" fill="none" stroke="#f0862a" stroke-width="0.8" stroke-linejoin="miter"/>
<polygon points="357.25,346.25 361.75,346.25 359.50,350.15" fill="none" stroke="#f0862a" stroke-width="0.8" stroke-linejoin="miter"/>
<polygon points="343.35,368.15 347.85,368.15 345.60,372.05" fill="none" stroke="#f0862a" stroke-width="0.8" stroke-linejoin="miter"/>
<polygon points="350.15,370.15 354.65,370.15 352.40,374.05" fill="none" stroke="#f0862a" stroke-width="0.8" stroke-linejoin="miter"/>
<polygon points="357.15,368.95 361.65,368.95 359.40,372.85" fill="none" stroke="#f0862a" stroke-width="0.8" stroke-linejoin="miter"/>
<polygon points="350.15,386.85 354.65,386.85 352.40,390.75" fill="none" stroke="#f0862a" stroke-width="0.8" stroke-linejoin="miter"/>
<polygon points="343.35,399.25 347.85,399.25 345.60,403.15" fill="none" stroke="#f0862a" stroke-width="0.8" stroke-linejoin="miter"/>
<polygon points="350.15,404.75 354.65,404.75 352.40,408.65" fill="none" stroke="#f0862a" stroke-width="0.8" stroke-linejoin="miter"/>
<polygon points="357.15,403.15 361.65,403.15 359.40,407.05" fill="none" stroke="#f0862a" stroke-width="0.8" stroke-linejoin="miter"/>
<polygon points="343.35,409.35 347.85,409.35 345.60,413.25" fill="none" stroke="#f0862a" stroke-width="0.8" stroke-linejoin="miter"/>
<polygon points="350.15,410.05 354.65,410.05 352.40,413.95" fill="none" stroke="#f0862a" stroke-width="0.8" stroke-linejoin="miter"/>
<polygon points="357.15,410.05 361.65,410.05 359.40,413.95" fill="none" stroke="#f0862a" stroke-width="0.8" stroke-linejoin="miter"/>
<polygon points="343.35,414.85 347.85,414.85 345.60,418.75" fill="none" stroke="#f0862a" stroke-width="0.8" stroke-linejoin="miter"/>
<polygon points="357.15,417.05 361.65,417.05 359.40,420.95" fill="none" stroke="#f0862a" stroke-width="0.8" stroke-linejoin="miter"/>
<polygon points="345.17,426.60 349.67,426.60 347.42,430.50" fill="none" stroke="#f0862a" stroke-width="0.8" stroke-linejoin="miter"/>
<polygon points="355.11,415.46 359.61,415.46 357.36,419.36" fill="none" stroke="#f0862a" stroke-width="0.8" stroke-linejoin="miter"/>
<polygon points="346.08,417.67 350.58,417.67 348.33,421.57" fill="none" stroke="#f0862a" stroke-width="0.8" stroke-linejoin="miter"/>
<polygon points="348.20,423.21 352.70,423.21 350.45,427.11" fill="none" stroke="#f0862a" stroke-width="0.8" stroke-linejoin="miter"/>
<polygon points="346.51,425.85 351.01,425.85 348.76,429.75" fill="none" stroke="#f0862a" stroke-width="0.8" stroke-linejoin="miter"/>
<polygon points="347.65,426.61 352.15,426.61 349.90,430.51" fill="none" stroke="#f0862a" stroke-width="0.8" stroke-linejoin="miter"/>
<polygon points="355.53,422.64 360.03,422.64 357.78,426.54" fill="none" stroke="#f0862a" stroke-width="0.8" stroke-linejoin="miter"/>
<polygon points="355.57,423.59 360.07,423.59 357.82,427.49" fill="none" stroke="#f0862a" stroke-width="0.8" stroke-linejoin="miter"/>
<polygon points="344.33,423.85 348.83,423.85 346.58,427.74" fill="none" stroke="#f0862a" stroke-width="0.8" stroke-linejoin="miter"/>
<polygon points="351.36,425.76 355.86,425.76 353.61,429.66" fill="none" stroke="#f0862a" stroke-width="0.8" stroke-linejoin="miter"/>
<polygon points="346.66,419.24 351.16,419.24 348.91,423.14" fill="none" stroke="#f0862a" stroke-width="0.8" stroke-linejoin="miter"/>
<polygon points="351.26,425.42 355.76,425.42 353.51,429.31" fill="none" stroke="#f0862a" stroke-width="0.8" stroke-linejoin="miter"/>
<polygon points="353.92,426.38 358.42,426.38 356.17,430.28" fill="none" stroke="#f0862a" stroke-width="0.8" stroke-linejoin="miter"/>
<polygon points="351.07,426.63 355.57,426.63 353.32,430.53" fill="none" stroke="#f0862a" stroke-width="0.8" stroke-linejoin="miter"/>
<polygon points="351.59,423.74 356.09,423.74 353.84,427.64" fill="none" stroke="#f0862a" stroke-width="0.8" stroke-linejoin="miter"/>
<polygon points="355.19,418.60 359.69,418.60 357.44,422.50" fill="none" stroke="#f0862a" stroke-width="0.8" stroke-linejoin="miter"/>
<polygon points="353.32,419.26 357.82,419.26 355.57,423.16" fill="none" stroke="#f0862a" stroke-width="0.8" stroke-linejoin="miter"/>
<polygon points="352.24,426.56 356.74,426.56 354.49,430.46" fill="none" stroke="#f0862a" stroke-width="0.8" stroke-linejoin="miter"/>
<polygon points="353.57,417.13 358.07,417.13 355.82,421.02" fill="none" stroke="#f0862a" stroke-width="0.8" stroke-linejoin="miter"/>
<polygon points="346.14,423.39 350.64,423.39 348.39,427.29" fill="none" stroke="#f0862a" stroke-width="0.8" stroke-linejoin="miter"/>
<polygon points="350.47,415.85 354.97,415.85 352.72,419.75" fill="none" stroke="#f0862a" stroke-width="0.8" stroke-linejoin="miter"/>
<polygon points="354.40,415.60 358.90,415.60 356.65,419.49" fill="none" stroke="#f0862a" stroke-width="0.8" stroke-linejoin="miter"/>
<polygon points="350.36,421.55 354.86,421.55 352.61,425.45" fill="none" stroke="#f0862a" stroke-width="0.8" stroke-linejoin="miter"/>
<polygon points="352.03,420.42 356.53,420.42 354.28,424.32" fill="none" stroke="#f0862a" stroke-width="0.8" stroke-linejoin="miter"/>
<polygon points="347.51,426.15 352.01,426.15 349.76,430.04" fill="none" stroke="#f0862a" stroke-width="0.8" stroke-linejoin="miter"/>
<polygon points="351.10,420.00 355.60,420.00 353.35,423.90" fill="none" stroke="#f0862a" stroke-width="0.8" stroke-linejoin="miter"/>
<line x1="352.40" y1="428.40" x2="352.40" y2="437.00" stroke="#111" stroke-width="1.0" />
<line x1="348.20" y1="428.40" x2="356.60" y2="428.40" stroke="#111" stroke-width="1.1" />
<line x1="344.00" y1="434.60" x2="361.00" y2="434.60" stroke="#111" stroke-width="1.1" />
<circle cx="379.40" cy="318.80" r="2.1" fill="none" stroke="#6a6a6a" stroke-width="0.7"/>
<circle cx="375.10" cy="328.50" r="2.1" fill="none" stroke="#6a6a6a" stroke-width="0.7"/>
<circle cx="383.70" cy="326.20" r="2.1" fill="none" stroke="#6a6a6a" stroke-width="0.7"/>
<circle cx="375.10" cy="338.00" r="2.1" fill="none" stroke="#6a6a6a" stroke-width="0.7"/>
<circle cx="383.70" cy="335.30" r="2.1" fill="none" stroke="#6a6a6a" stroke-width="0.7"/>
<circle cx="379.40" cy="344.10" r="2.1" fill="none" stroke="#6a6a6a" stroke-width="0.7"/>
<circle cx="372.70" cy="348.50" r="2.1" fill="none" stroke="#6a6a6a" stroke-width="0.7"/>
<circle cx="386.10" cy="346.40" r="2.1" fill="none" stroke="#6a6a6a" stroke-width="0.7"/>
<circle cx="372.19" cy="349.96" r="2.3" fill="#fafafa" stroke="#4a4a4a" stroke-width="0.8"/>
<circle cx="375.12" cy="352.42" r="2.3" fill="#fafafa" stroke="#4a4a4a" stroke-width="0.8"/>
<circle cx="377.65" cy="353.79" r="2.3" fill="#fafafa" stroke="#4a4a4a" stroke-width="0.8"/>
<circle cx="381.13" cy="354.03" r="2.3" fill="#fafafa" stroke="#4a4a4a" stroke-width="0.8"/>
<circle cx="383.81" cy="352.47" r="2.3" fill="#fafafa" stroke="#4a4a4a" stroke-width="0.8"/>
<circle cx="386.43" cy="350.07" r="2.3" fill="#fafafa" stroke="#4a4a4a" stroke-width="0.8"/>
<circle cx="372.14" cy="353.36" r="2.3" fill="#fafafa" stroke="#4a4a4a" stroke-width="0.8"/>
<circle cx="374.97" cy="356.29" r="2.3" fill="#fafafa" stroke="#4a4a4a" stroke-width="0.8"/>
<circle cx="378.26" cy="357.43" r="2.3" fill="#fafafa" stroke="#4a4a4a" stroke-width="0.8"/>
<circle cx="381.04" cy="357.06" r="2.3" fill="#fafafa" stroke="#4a4a4a" stroke-width="0.8"/>
<circle cx="383.45" cy="356.11" r="2.3" fill="#fafafa" stroke="#4a4a4a" stroke-width="0.8"/>
<circle cx="386.59" cy="353.81" r="2.3" fill="#fafafa" stroke="#4a4a4a" stroke-width="0.8"/>
<circle cx="372.70" cy="356.75" r="2.3" fill="#fafafa" stroke="#4a4a4a" stroke-width="0.8"/>
<circle cx="375.28" cy="359.54" r="2.3" fill="#fafafa" stroke="#4a4a4a" stroke-width="0.8"/>
<circle cx="378.00" cy="360.45" r="2.3" fill="#fafafa" stroke="#4a4a4a" stroke-width="0.8"/>
<circle cx="380.78" cy="360.40" r="2.3" fill="#fafafa" stroke="#4a4a4a" stroke-width="0.8"/>
<circle cx="383.95" cy="359.65" r="2.3" fill="#fafafa" stroke="#4a4a4a" stroke-width="0.8"/>
<circle cx="386.44" cy="356.88" r="2.3" fill="#fafafa" stroke="#4a4a4a" stroke-width="0.8"/>
<circle cx="372.73" cy="360.44" r="2.3" fill="#f0f0f0" stroke="#4a4a4a" stroke-width="0.8"/>
<circle cx="375.51" cy="363.04" r="2.3" fill="#f0f0f0" stroke="#4a4a4a" stroke-width="0.8"/>
<circle cx="378.01" cy="364.00" r="2.3" fill="#f0f0f0" stroke="#4a4a4a" stroke-width="0.8"/>
<circle cx="380.88" cy="364.01" r="2.3" fill="#f0f0f0" stroke="#4a4a4a" stroke-width="0.8"/>
<circle cx="383.33" cy="362.72" r="2.3" fill="#f0f0f0" stroke="#4a4a4a" stroke-width="0.8"/>
<circle cx="386.65" cy="360.13" r="2.3" fill="#f0f0f0" stroke="#4a4a4a" stroke-width="0.8"/>
<circle cx="372.04" cy="363.88" r="2.3" fill="#dedede" stroke="#4a4a4a" stroke-width="0.8"/>
<circle cx="375.02" cy="366.25" r="2.3" fill="#dedede" stroke="#4a4a4a" stroke-width="0.8"/>
<circle cx="377.98" cy="367.35" r="2.3" fill="#dedede" stroke="#4a4a4a" stroke-width="0.8"/>
<circle cx="381.20" cy="367.27" r="2.3" fill="#dedede" stroke="#4a4a4a" stroke-width="0.8"/>
<circle cx="383.53" cy="366.05" r="2.3" fill="#dedede" stroke="#4a4a4a" stroke-width="0.8"/>
<circle cx="386.51" cy="363.67" r="2.3" fill="#dedede" stroke="#4a4a4a" stroke-width="0.8"/>
<circle cx="372.28" cy="367.35" r="2.3" fill="#cbcbcb" stroke="#4a4a4a" stroke-width="0.8"/>
<circle cx="375.06" cy="369.67" r="2.3" fill="#cbcbcb" stroke="#4a4a4a" stroke-width="0.8"/>
<circle cx="378.32" cy="370.61" r="2.3" fill="#cbcbcb" stroke="#4a4a4a" stroke-width="0.8"/>
<circle cx="380.45" cy="370.69" r="2.3" fill="#cbcbcb" stroke="#4a4a4a" stroke-width="0.8"/>
<circle cx="383.81" cy="369.70" r="2.3" fill="#cbcbcb" stroke="#4a4a4a" stroke-width="0.8"/>
<circle cx="386.19" cy="367.10" r="2.3" fill="#cbcbcb" stroke="#4a4a4a" stroke-width="0.8"/>
<circle cx="372.14" cy="370.58" r="2.3" fill="#b8b8b8" stroke="#4a4a4a" stroke-width="0.8"/>
<circle cx="374.83" cy="373.15" r="2.3" fill="#b8b8b8" stroke="#4a4a4a" stroke-width="0.8"/>
<circle cx="378.32" cy="374.52" r="2.3" fill="#b8b8b8" stroke="#4a4a4a" stroke-width="0.8"/>
<circle cx="380.99" cy="374.52" r="2.3" fill="#b8b8b8" stroke="#4a4a4a" stroke-width="0.8"/>
<circle cx="383.21" cy="372.91" r="2.3" fill="#b8b8b8" stroke="#4a4a4a" stroke-width="0.8"/>
<circle cx="386.77" cy="370.77" r="2.3" fill="#b8b8b8" stroke="#4a4a4a" stroke-width="0.8"/>
<circle cx="372.33" cy="374.27" r="2.3" fill="#a6a6a6" stroke="#4a4a4a" stroke-width="0.8"/>
<circle cx="375.30" cy="376.62" r="2.3" fill="#a6a6a6" stroke="#4a4a4a" stroke-width="0.8"/>
<circle cx="377.83" cy="377.46" r="2.3" fill="#a6a6a6" stroke="#4a4a4a" stroke-width="0.8"/>
<circle cx="380.76" cy="377.43" r="2.3" fill="#a6a6a6" stroke="#4a4a4a" stroke-width="0.8"/>
<circle cx="383.51" cy="376.71" r="2.3" fill="#a6a6a6" stroke="#4a4a4a" stroke-width="0.8"/>
<circle cx="386.27" cy="373.71" r="2.3" fill="#a6a6a6" stroke="#4a4a4a" stroke-width="0.8"/>
<circle cx="372.04" cy="377.20" r="2.3" fill="#939393" stroke="#4a4a4a" stroke-width="0.8"/>
<circle cx="375.43" cy="379.75" r="2.3" fill="#939393" stroke="#4a4a4a" stroke-width="0.8"/>
<circle cx="377.83" cy="380.81" r="2.3" fill="#939393" stroke="#4a4a4a" stroke-width="0.8"/>
<circle cx="381.19" cy="381.00" r="2.3" fill="#939393" stroke="#4a4a4a" stroke-width="0.8"/>
<circle cx="383.37" cy="379.57" r="2.3" fill="#939393" stroke="#4a4a4a" stroke-width="0.8"/>
<circle cx="386.04" cy="377.20" r="2.3" fill="#939393" stroke="#4a4a4a" stroke-width="0.8"/>
<circle cx="372.54" cy="380.59" r="2.3" fill="#808080" stroke="#4a4a4a" stroke-width="0.8"/>
<circle cx="374.83" cy="383.23" r="2.3" fill="#808080" stroke="#4a4a4a" stroke-width="0.8"/>
<circle cx="377.80" cy="384.75" r="2.3" fill="#808080" stroke="#4a4a4a" stroke-width="0.8"/>
<circle cx="380.50" cy="384.47" r="2.3" fill="#808080" stroke="#4a4a4a" stroke-width="0.8"/>
<circle cx="383.82" cy="383.18" r="2.3" fill="#808080" stroke="#4a4a4a" stroke-width="0.8"/>
<circle cx="386.79" cy="380.79" r="2.3" fill="#808080" stroke="#4a4a4a" stroke-width="0.8"/>
<circle cx="372.19" cy="384.15" r="2.3" fill="#6e6e6e" stroke="#4a4a4a" stroke-width="0.8"/>
<circle cx="374.83" cy="386.58" r="2.3" fill="#6e6e6e" stroke="#4a4a4a" stroke-width="0.8"/>
<circle cx="377.80" cy="388.08" r="2.3" fill="#6e6e6e" stroke="#4a4a4a" stroke-width="0.8"/>
<circle cx="381.06" cy="387.85" r="2.3" fill="#6e6e6e" stroke="#4a4a4a" stroke-width="0.8"/>
<circle cx="383.23" cy="386.48" r="2.3" fill="#6e6e6e" stroke="#4a4a4a" stroke-width="0.8"/>
<circle cx="386.19" cy="384.02" r="2.3" fill="#6e6e6e" stroke="#4a4a4a" stroke-width="0.8"/>
<path d="M371.60,386.00 L379.40,389.50 L387.20,386.00 L387.20,431.60 L379.40,438.10 L371.60,431.60 Z" fill="#3c3535"/>
<circle cx="372.80" cy="387.62" r="2.7" fill="#3c3535"/>
<circle cx="386.00" cy="387.62" r="2.7" fill="#3c3535"/>
<circle cx="372.80" cy="393.82" r="2.7" fill="#3c3535"/>
<circle cx="386.00" cy="393.82" r="2.7" fill="#3c3535"/>
<circle cx="372.80" cy="400.02" r="2.7" fill="#3c3535"/>
<circle cx="386.00" cy="400.02" r="2.7" fill="#3c3535"/>
<circle cx="372.80" cy="406.22" r="2.7" fill="#3c3535"/>
<circle cx="386.00" cy="406.22" r="2.7" fill="#3c3535"/>
<circle cx="372.80" cy="412.42" r="2.7" fill="#3c3535"/>
<circle cx="386.00" cy="412.42" r="2.7" fill="#3c3535"/>
<circle cx="372.80" cy="418.62" r="2.7" fill="#3c3535"/>
<circle cx="386.00" cy="418.62" r="2.7" fill="#3c3535"/>
<circle cx="372.80" cy="424.82" r="2.7" fill="#3c3535"/>
<circle cx="386.00" cy="424.82" r="2.7" fill="#3c3535"/>
<circle cx="372.80" cy="431.02" r="2.7" fill="#3c3535"/>
<circle cx="386.00" cy="431.02" r="2.7" fill="#3c3535"/>
<circle cx="379.40" cy="434.60" r="3.3" fill="#3c3535"/>
<path d="M375.90,389.30 Q379.40,392.10 382.90,389.30" fill="none" stroke="#ffffff" stroke-opacity="0.65" stroke-width="0.7"/>
<path d="M376.90,401.70 Q379.40,404.50 381.90,401.70" fill="none" stroke="#ffffff" stroke-opacity="0.25" stroke-width="0.7"/>
<path d="M374.90,414.10 Q379.40,416.90 383.90,414.10" fill="none" stroke="#ffffff" stroke-opacity="0.65" stroke-width="0.7"/>
<path d="M376.90,426.50 Q379.40,429.30 381.90,426.50" fill="none" stroke="#ffffff" stroke-opacity="0.85" stroke-width="0.7"/>
<line x1="379.40" y1="420.70" x2="379.40" y2="433.00" stroke="#111" stroke-width="1.0" />
<line x1="375.20" y1="420.70" x2="383.60" y2="420.70" stroke="#111" stroke-width="1.1" />
<line x1="371.00" y1="426.90" x2="388.00" y2="426.90" stroke="#111" stroke-width="1.1" />
<line x1="375.20" y1="433.00" x2="383.60" y2="433.00" stroke="#111" stroke-width="1.1" />
<text x="7.00" y="473.60" font-size="11" font-weight="bold" fill="#000">G</text>
<line x1="52.30" y1="473.50" x2="52.30" y2="619.10" stroke="#231f20" stroke-width="1.0" />
<line x1="51.80" y1="618.60" x2="194.70" y2="618.60" stroke="#231f20" stroke-width="1.0" />
<line x1="49.30" y1="618.60" x2="52.30" y2="618.60" stroke="#231f20" stroke-width="0.9" />
<text x="46.80" y="621.00" font-size="6.8" text-anchor="end" font-weight="normal" fill="#3a3a3a" >0</text>
<line x1="49.30" y1="590.04" x2="52.30" y2="590.04" stroke="#231f20" stroke-width="0.9" />
<text x="46.80" y="592.44" font-size="6.8" text-anchor="end" font-weight="normal" fill="#3a3a3a" >200</text>
<line x1="49.30" y1="561.48" x2="52.30" y2="561.48" stroke="#231f20" stroke-width="0.9" />
<text x="46.80" y="563.88" font-size="6.8" text-anchor="end" font-weight="normal" fill="#3a3a3a" >400</text>
<line x1="49.30" y1="532.92" x2="52.30" y2="532.92" stroke="#231f20" stroke-width="0.9" />
<text x="46.80" y="535.32" font-size="6.8" text-anchor="end" font-weight="normal" fill="#3a3a3a" >600</text>
<line x1="49.30" y1="504.36" x2="52.30" y2="504.36" stroke="#231f20" stroke-width="0.9" />
<text x="46.80" y="506.76" font-size="6.8" text-anchor="end" font-weight="normal" fill="#3a3a3a" >800</text>
<line x1="49.30" y1="475.80" x2="52.30" y2="475.80" stroke="#231f20" stroke-width="0.9" />
<text x="46.80" y="478.20" font-size="6.8" text-anchor="end" font-weight="normal" fill="#3a3a3a" >1000</text>
<text x="70.30" y="627.30" font-size="6.6" text-anchor="middle" font-weight="normal" fill="#231f20" >A</text>
<text x="96.70" y="627.30" font-size="6.6" text-anchor="middle" font-weight="normal" fill="#231f20" >AB</text>
<text x="123.50" y="627.30" font-size="6.6" text-anchor="middle" font-weight="normal" fill="#231f20" >B</text>
<text x="150.00" y="627.30" font-size="6.6" text-anchor="middle" font-weight="normal" fill="#231f20" >DN</text>
<text x="176.80" y="627.30" font-size="6.6" text-anchor="middle" font-weight="normal" fill="#231f20" textLength="23.5" lengthAdjust="spacingAndGlyphs" >Random</text>
<text x="176.80" y="635.20" font-size="6.6" text-anchor="middle" font-weight="normal" fill="#231f20" >dots</text>
<text transform="translate(25.60,545.80) rotate(-90)" font-size="8.4" text-anchor="middle" fill="#231f20" textLength="139.3" lengthAdjust="spacingAndGlyphs">Distance from cortical bone - metaphysis (µm)</text>
<line x1="69.90" y1="481.50" x2="123.00" y2="481.50" stroke="#231f20" stroke-width="1.0" />
<rect x="92.05" y="478.30" width="1.3" height="1.2" fill="#444"/>
<rect x="94.55" y="478.30" width="1.3" height="1.2" fill="#444"/>
<rect x="97.05" y="478.30" width="1.3" height="1.2" fill="#444"/>
<rect x="99.55" y="478.30" width="1.3" height="1.2" fill="#444"/>
<line x1="69.90" y1="490.50" x2="95.80" y2="490.50" stroke="#231f20" stroke-width="1.0" />
<rect x="80.95" y="486.80" width="1.3" height="1.2" fill="#444"/>
<rect x="83.45" y="486.80" width="1.3" height="1.2" fill="#444"/>
<line x1="122.30" y1="490.50" x2="149.90" y2="490.50" stroke="#231f20" stroke-width="1.0" />
<rect x="134.20" y="486.80" width="1.3" height="1.2" fill="#444"/>
<rect x="136.70" y="486.80" width="1.3" height="1.2" fill="#444"/>
<rect x="94.80" y="516.10" width="1.3" height="1.2" fill="#444"/>
<rect x="97.30" y="516.10" width="1.3" height="1.2" fill="#444"/>
<rect x="119.10" y="516.10" width="1.3" height="1.2" fill="#444"/>
<rect x="121.60" y="516.10" width="1.3" height="1.2" fill="#444"/>
<rect x="124.10" y="516.10" width="1.3" height="1.2" fill="#444"/>
<rect x="126.60" y="516.10" width="1.3" height="1.2" fill="#444"/>
<circle cx="63.50" cy="505.00" r="2.1" fill="none" stroke="#c32a45" stroke-width="0.8"/>
<circle cx="68.00" cy="506.30" r="2.1" fill="none" stroke="#c32a45" stroke-width="0.8"/>
<circle cx="72.50" cy="506.00" r="2.1" fill="none" stroke="#c32a45" stroke-width="0.8"/>
<circle cx="77.00" cy="504.60" r="2.1" fill="none" stroke="#c32a45" stroke-width="0.8"/>
<circle cx="63.50" cy="515.80" r="2.1" fill="none" stroke="#c32a45" stroke-width="0.8"/>
<circle cx="67.30" cy="518.10" r="2.1" fill="none" stroke="#c32a45" stroke-width="0.8"/>
<circle cx="77.00" cy="516.70" r="2.1" fill="none" stroke="#c32a45" stroke-width="0.8"/>
<circle cx="70.40" cy="521.00" r="2.1" fill="none" stroke="#c32a45" stroke-width="0.8"/>
<circle cx="73.90" cy="520.50" r="2.1" fill="none" stroke="#c32a45" stroke-width="0.8"/>
<circle cx="63.50" cy="523.60" r="2.1" fill="none" stroke="#c32a45" stroke-width="0.8"/>
<circle cx="67.30" cy="525.00" r="2.1" fill="none" stroke="#c32a45" stroke-width="0.8"/>
<circle cx="77.00" cy="522.80" r="2.1" fill="none" stroke="#c32a45" stroke-width="0.8"/>
<circle cx="72.50" cy="523.60" r="2.1" fill="none" stroke="#c32a45" stroke-width="0.8"/>
<circle cx="63.50" cy="529.70" r="2.1" fill="none" stroke="#c32a45" stroke-width="0.8"/>
<circle cx="67.30" cy="528.80" r="2.1" fill="none" stroke="#c32a45" stroke-width="0.8"/>
<circle cx="77.00" cy="530.20" r="2.1" fill="none" stroke="#c32a45" stroke-width="0.8"/>
<circle cx="70.40" cy="532.30" r="2.1" fill="none" stroke="#c32a45" stroke-width="0.8"/>
<circle cx="66.40" cy="533.10" r="2.1" fill="none" stroke="#c32a45" stroke-width="0.8"/>
<circle cx="73.90" cy="532.60" r="2.1" fill="none" stroke="#c32a45" stroke-width="0.8"/>
<circle cx="70.40" cy="541.80" r="2.1" fill="none" stroke="#c32a45" stroke-width="0.8"/>
<circle cx="63.50" cy="547.30" r="2.1" fill="none" stroke="#c32a45" stroke-width="0.8"/>
<circle cx="70.40" cy="548.20" r="2.1" fill="none" stroke="#c32a45" stroke-width="0.8"/>
<circle cx="77.00" cy="547.80" r="2.1" fill="none" stroke="#c32a45" stroke-width="0.8"/>
<circle cx="70.40" cy="553.50" r="2.1" fill="none" stroke="#c32a45" stroke-width="0.8"/>
<circle cx="63.37" cy="561.94" r="2.1" fill="none" stroke="#c32a45" stroke-width="0.8"/>
<circle cx="67.73" cy="560.86" r="2.1" fill="none" stroke="#c32a45" stroke-width="0.8"/>
<circle cx="72.38" cy="562.08" r="2.1" fill="none" stroke="#c32a45" stroke-width="0.8"/>
<circle cx="76.76" cy="561.59" r="2.1" fill="none" stroke="#c32a45" stroke-width="0.8"/>
<circle cx="64.10" cy="564.52" r="2.1" fill="none" stroke="#c32a45" stroke-width="0.8"/>
<circle cx="68.73" cy="565.27" r="2.1" fill="none" stroke="#c32a45" stroke-width="0.8"/>
<circle cx="72.60" cy="565.18" r="2.1" fill="none" stroke="#c32a45" stroke-width="0.8"/>
<circle cx="63.60" cy="569.61" r="2.1" fill="none" stroke="#c32a45" stroke-width="0.8"/>
<circle cx="76.84" cy="570.31" r="2.1" fill="none" stroke="#c32a45" stroke-width="0.8"/>
<circle cx="64.78" cy="574.38" r="2.1" fill="none" stroke="#c32a45" stroke-width="0.8"/>
<circle cx="70.06" cy="574.21" r="2.1" fill="none" stroke="#c32a45" stroke-width="0.8"/>
<circle cx="75.93" cy="573.84" r="2.1" fill="none" stroke="#c32a45" stroke-width="0.8"/>
<circle cx="63.30" cy="577.10" r="2.1" fill="none" stroke="#c32a45" stroke-width="0.8"/>
<circle cx="68.38" cy="578.31" r="2.1" fill="none" stroke="#c32a45" stroke-width="0.8"/>
<circle cx="64.27" cy="580.72" r="2.1" fill="none" stroke="#c32a45" stroke-width="0.8"/>
<circle cx="70.45" cy="581.92" r="2.1" fill="none" stroke="#c32a45" stroke-width="0.8"/>
<circle cx="75.93" cy="582.51" r="2.1" fill="none" stroke="#c32a45" stroke-width="0.8"/>
<circle cx="64.01" cy="585.26" r="2.1" fill="none" stroke="#c32a45" stroke-width="0.8"/>
<circle cx="76.89" cy="584.77" r="2.1" fill="none" stroke="#c32a45" stroke-width="0.8"/>
<circle cx="68.55" cy="589.65" r="2.1" fill="none" stroke="#c32a45" stroke-width="0.8"/>
<circle cx="72.32" cy="590.66" r="2.1" fill="none" stroke="#c32a45" stroke-width="0.8"/>
<circle cx="76.83" cy="589.10" r="2.1" fill="none" stroke="#c32a45" stroke-width="0.8"/>
<circle cx="70.40" cy="594.19" r="2.1" fill="none" stroke="#c32a45" stroke-width="0.8"/>
<circle cx="76.15" cy="593.77" r="2.1" fill="none" stroke="#c32a45" stroke-width="0.8"/>
<circle cx="64.03" cy="596.63" r="2.1" fill="none" stroke="#c32a45" stroke-width="0.8"/>
<circle cx="70.63" cy="598.64" r="2.1" fill="none" stroke="#c32a45" stroke-width="0.8"/>
<circle cx="76.01" cy="598.14" r="2.1" fill="none" stroke="#c32a45" stroke-width="0.8"/>
<circle cx="63.91" cy="601.20" r="2.1" fill="none" stroke="#c32a45" stroke-width="0.8"/>
<circle cx="70.01" cy="600.41" r="2.1" fill="none" stroke="#c32a45" stroke-width="0.8"/>
<circle cx="76.74" cy="600.42" r="2.1" fill="none" stroke="#c32a45" stroke-width="0.8"/>
<circle cx="64.13" cy="606.27" r="2.1" fill="none" stroke="#c32a45" stroke-width="0.8"/>
<circle cx="70.02" cy="605.39" r="2.1" fill="none" stroke="#c32a45" stroke-width="0.8"/>
<circle cx="76.33" cy="606.36" r="2.1" fill="none" stroke="#c32a45" stroke-width="0.8"/>
<circle cx="63.76" cy="609.41" r="2.1" fill="none" stroke="#c32a45" stroke-width="0.8"/>
<circle cx="68.16" cy="608.62" r="2.1" fill="none" stroke="#c32a45" stroke-width="0.8"/>
<circle cx="73.14" cy="610.09" r="2.1" fill="none" stroke="#c32a45" stroke-width="0.8"/>
<circle cx="64.10" cy="614.35" r="2.1" fill="none" stroke="#c32a45" stroke-width="0.8"/>
<circle cx="70.31" cy="612.64" r="2.1" fill="none" stroke="#c32a45" stroke-width="0.8"/>
<circle cx="76.07" cy="613.32" r="2.1" fill="none" stroke="#c32a45" stroke-width="0.8"/>
<line x1="70.40" y1="532.00" x2="70.40" y2="603.70" stroke="#111" stroke-width="1.1" />
<line x1="66.40" y1="532.00" x2="74.40" y2="532.00" stroke="#111" stroke-width="1.2000000000000002" />
<line x1="61.80" y1="573.20" x2="79.00" y2="573.20" stroke="#111" stroke-width="1.25" />
<line x1="66.40" y1="603.70" x2="74.40" y2="603.70" stroke="#111" stroke-width="1.2000000000000002" />
<path d="M88.50,613.30 Q96.70,617.30 104.90,613.30 Q105.40,618.60 100.39,619.20 L93.01,619.20 Q88.00,618.60 88.50,613.30 Z" fill="#5b1f97"/>
<polygon points="94.45,528.15 98.95,528.15 96.70,524.25" fill="none" stroke="#6a3d9d" stroke-width="0.8" stroke-linejoin="miter"/>
<polygon points="94.45,536.35 98.95,536.35 96.70,532.45" fill="none" stroke="#6a3d9d" stroke-width="0.8" stroke-linejoin="miter"/>
<polygon points="98.75,541.55 103.25,541.55 101.00,537.65" fill="none" stroke="#6a3d9d" stroke-width="0.8" stroke-linejoin="miter"/>
<polygon points="90.15,544.25 94.65,544.25 92.40,540.35" fill="none" stroke="#6a3d9d" stroke-width="0.8" stroke-linejoin="miter"/>
<polygon points="87.85,550.45 92.35,550.45 90.10,546.55" fill="none" stroke="#6a3d9d" stroke-width="0.8" stroke-linejoin="miter"/>
<polygon points="94.45,551.85 98.95,551.85 96.70,547.95" fill="none" stroke="#6a3d9d" stroke-width="0.8" stroke-linejoin="miter"/>
<polygon points="101.35,551.35 105.85,551.35 103.60,547.45" fill="none" stroke="#6a3d9d" stroke-width="0.8" stroke-linejoin="miter"/>
<polygon points="94.45,557.95 98.95,557.95 96.70,554.05" fill="none" stroke="#6a3d9d" stroke-width="0.8" stroke-linejoin="miter"/>
<polygon points="94.45,569.25 98.95,569.25 96.70,565.35" fill="none" stroke="#6a3d9d" stroke-width="0.8" stroke-linejoin="miter"/>
<polygon points="90.15,587.75 94.65,587.75 92.40,583.85" fill="none" stroke="#6a3d9d" stroke-width="0.8" stroke-linejoin="miter"/>
<polygon points="98.75,586.55 103.25,586.55 101.00,582.65" fill="none" stroke="#6a3d9d" stroke-width="0.8" stroke-linejoin="miter"/>
<polygon points="87.85,595.95 92.35,595.95 90.10,592.05" fill="none" stroke="#6a3d9d" stroke-width="0.8" stroke-linejoin="miter"/>
<polygon points="101.35,596.45 105.85,596.45 103.60,592.55" fill="none" stroke="#6a3d9d" stroke-width="0.8" stroke-linejoin="miter"/>
<polygon points="94.45,598.65 98.95,598.65 96.70,594.75" fill="none" stroke="#6a3d9d" stroke-width="0.8" stroke-linejoin="miter"/>
<polygon points="101.35,603.35 105.85,603.35 103.60,599.45" fill="none" stroke="#6a3d9d" stroke-width="0.8" stroke-linejoin="miter"/>
<polygon points="87.85,611.15 92.35,611.15 90.10,607.25" fill="none" stroke="#6a3d9d" stroke-width="0.8" stroke-linejoin="miter"/>
<polygon points="101.35,611.95 105.85,611.95 103.60,608.05" fill="none" stroke="#6a3d9d" stroke-width="0.8" stroke-linejoin="miter"/>
<polygon points="94.45,613.95 98.95,613.95 96.70,610.05" fill="none" stroke="#6a3d9d" stroke-width="0.8" stroke-linejoin="miter"/>
<polygon points="89.75,605.95 94.25,605.95 92.00,602.05" fill="none" stroke="#6a3d9d" stroke-width="0.8" stroke-linejoin="miter"/>
<polygon points="97.25,608.95 101.75,608.95 99.50,605.05" fill="none" stroke="#6a3d9d" stroke-width="0.8" stroke-linejoin="miter"/>
<line x1="96.70" y1="558.50" x2="96.70" y2="616.00" stroke="#111" stroke-width="1.1" />
<line x1="92.70" y1="558.50" x2="100.70" y2="558.50" stroke="#111" stroke-width="1.2000000000000002" />
<line x1="88.10" y1="603.50" x2="105.30" y2="603.50" stroke="#111" stroke-width="1.25" />
<line x1="92.70" y1="616.00" x2="100.70" y2="616.00" stroke="#111" stroke-width="1.2000000000000002" />
<path d="M114.50,612.50 Q123.50,616.50 132.50,612.50 Q133.00,618.60 127.55,619.20 L119.45,619.20 Q114.00,618.60 114.50,612.50 Z" fill="#3452b8"/>
<rect x="121.60" y="523.50" width="3.8" height="3.8" fill="none" stroke="#4a77c6" stroke-width="0.8"/>
<rect x="117.30" y="534.70" width="3.8" height="3.8" fill="none" stroke="#4a77c6" stroke-width="0.8"/>
<rect x="126.00" y="534.70" width="3.8" height="3.8" fill="none" stroke="#4a77c6" stroke-width="0.8"/>
<rect x="121.60" y="542.10" width="3.8" height="3.8" fill="none" stroke="#4a77c6" stroke-width="0.8"/>
<rect x="114.70" y="551.60" width="3.8" height="3.8" fill="none" stroke="#4a77c6" stroke-width="0.8"/>
<rect x="121.60" y="553.70" width="3.8" height="3.8" fill="none" stroke="#4a77c6" stroke-width="0.8"/>
<rect x="128.00" y="552.30" width="3.8" height="3.8" fill="none" stroke="#4a77c6" stroke-width="0.8"/>
<rect x="117.30" y="557.10" width="3.8" height="3.8" fill="none" stroke="#4a77c6" stroke-width="0.8"/>
<rect x="124.20" y="559.70" width="3.8" height="3.8" fill="none" stroke="#4a77c6" stroke-width="0.8"/>
<rect x="121.60" y="563.10" width="3.8" height="3.8" fill="none" stroke="#4a77c6" stroke-width="0.8"/>
<rect x="121.60" y="571.00" width="3.8" height="3.8" fill="none" stroke="#4a77c6" stroke-width="0.8"/>
<rect x="114.27" y="574.43" width="3.8" height="3.8" fill="none" stroke="#4a77c6" stroke-width="0.8"/>
<rect x="123.60" y="575.21" width="3.8" height="3.8" fill="none" stroke="#4a77c6" stroke-width="0.8"/>
<rect x="128.07" y="575.25" width="3.8" height="3.8" fill="none" stroke="#4a77c6" stroke-width="0.8"/>
<rect x="119.44" y="578.28" width="3.8" height="3.8" fill="none" stroke="#4a77c6" stroke-width="0.8"/>
<rect x="122.74" y="578.85" width="3.8" height="3.8" fill="none" stroke="#4a77c6" stroke-width="0.8"/>
<rect x="127.95" y="578.64" width="3.8" height="3.8" fill="none" stroke="#4a77c6" stroke-width="0.8"/>
<rect x="115.15" y="580.77" width="3.8" height="3.8" fill="none" stroke="#4a77c6" stroke-width="0.8"/>
<rect x="128.06" y="582.16" width="3.8" height="3.8" fill="none" stroke="#4a77c6" stroke-width="0.8"/>
<rect x="114.97" y="584.25" width="3.8" height="3.8" fill="none" stroke="#4a77c6" stroke-width="0.8"/>
<rect x="124.07" y="584.11" width="3.8" height="3.8" fill="none" stroke="#4a77c6" stroke-width="0.8"/>
<rect x="127.89" y="585.22" width="3.8" height="3.8" fill="none" stroke="#4a77c6" stroke-width="0.8"/>
<rect x="115.32" y="588.99" width="3.8" height="3.8" fill="none" stroke="#4a77c6" stroke-width="0.8"/>
<rect x="118.33" y="588.64" width="3.8" height="3.8" fill="none" stroke="#4a77c6" stroke-width="0.8"/>
<rect x="123.56" y="588.29" width="3.8" height="3.8" fill="none" stroke="#4a77c6" stroke-width="0.8"/>
<rect x="126.93" y="587.57" width="3.8" height="3.8" fill="none" stroke="#4a77c6" stroke-width="0.8"/>
<rect x="115.07" y="591.45" width="3.8" height="3.8" fill="none" stroke="#4a77c6" stroke-width="0.8"/>
<rect x="118.96" y="592.36" width="3.8" height="3.8" fill="none" stroke="#4a77c6" stroke-width="0.8"/>
<rect x="123.01" y="590.88" width="3.8" height="3.8" fill="none" stroke="#4a77c6" stroke-width="0.8"/>
<rect x="126.96" y="592.32" width="3.8" height="3.8" fill="none" stroke="#4a77c6" stroke-width="0.8"/>
<rect x="123.56" y="594.16" width="3.8" height="3.8" fill="none" stroke="#4a77c6" stroke-width="0.8"/>
<rect x="115.10" y="598.42" width="3.8" height="3.8" fill="none" stroke="#4a77c6" stroke-width="0.8"/>
<rect x="119.46" y="599.12" width="3.8" height="3.8" fill="none" stroke="#4a77c6" stroke-width="0.8"/>
<rect x="123.20" y="598.67" width="3.8" height="3.8" fill="none" stroke="#4a77c6" stroke-width="0.8"/>
<rect x="127.56" y="598.10" width="3.8" height="3.8" fill="none" stroke="#4a77c6" stroke-width="0.8"/>
<rect x="118.44" y="601.87" width="3.8" height="3.8" fill="none" stroke="#4a77c6" stroke-width="0.8"/>
<rect x="123.94" y="601.15" width="3.8" height="3.8" fill="none" stroke="#4a77c6" stroke-width="0.8"/>
<rect x="115.32" y="605.30" width="3.8" height="3.8" fill="none" stroke="#4a77c6" stroke-width="0.8"/>
<rect x="118.44" y="604.13" width="3.8" height="3.8" fill="none" stroke="#4a77c6" stroke-width="0.8"/>
<rect x="122.79" y="605.13" width="3.8" height="3.8" fill="none" stroke="#4a77c6" stroke-width="0.8"/>
<rect x="127.28" y="604.93" width="3.8" height="3.8" fill="none" stroke="#4a77c6" stroke-width="0.8"/>
<rect x="114.43" y="607.56" width="3.8" height="3.8" fill="none" stroke="#4a77c6" stroke-width="0.8"/>
<rect x="118.29" y="609.10" width="3.8" height="3.8" fill="none" stroke="#4a77c6" stroke-width="0.8"/>
<rect x="123.64" y="608.21" width="3.8" height="3.8" fill="none" stroke="#4a77c6" stroke-width="0.8"/>
<rect x="128.45" y="608.89" width="3.8" height="3.8" fill="none" stroke="#4a77c6" stroke-width="0.8"/>
<rect x="119.04" y="612.28" width="3.8" height="3.8" fill="none" stroke="#4a77c6" stroke-width="0.8"/>
<rect x="123.32" y="611.70" width="3.8" height="3.8" fill="none" stroke="#4a77c6" stroke-width="0.8"/>
<rect x="128.06" y="611.97" width="3.8" height="3.8" fill="none" stroke="#4a77c6" stroke-width="0.8"/>
<line x1="123.50" y1="579.40" x2="123.50" y2="614.40" stroke="#111" stroke-width="1.1" />
<line x1="119.50" y1="579.40" x2="127.50" y2="579.40" stroke="#111" stroke-width="1.2000000000000002" />
<line x1="114.70" y1="601.40" x2="132.30" y2="601.40" stroke="#111" stroke-width="1.25" />
<line x1="119.50" y1="614.40" x2="127.50" y2="614.40" stroke="#111" stroke-width="1.2000000000000002" />
<path d="M141.00,611.00 Q150.00,616.00 159.00,611.00 Q159.50,618.60 154.05,619.20 L145.95,619.20 Q140.50,618.60 141.00,611.00 Z" fill="#f05a0c"/>
<polygon points="141.05,498.15 145.55,498.15 143.30,502.05" fill="none" stroke="#f0862a" stroke-width="0.8" stroke-linejoin="miter"/>
<polygon points="154.35,500.55 158.85,500.55 156.60,504.45" fill="none" stroke="#f0862a" stroke-width="0.8" stroke-linejoin="miter"/>
<polygon points="148.05,504.15 152.55,504.15 150.30,508.05" fill="none" stroke="#f0862a" stroke-width="0.8" stroke-linejoin="miter"/>
<polygon points="148.05,509.75 152.55,509.75 150.30,513.65" fill="none" stroke="#f0862a" stroke-width="0.8" stroke-linejoin="miter"/>
<polygon points="141.05,513.55 145.55,513.55 143.30,517.45" fill="none" stroke="#f0862a" stroke-width="0.8" stroke-linejoin="miter"/>
<polygon points="148.05,516.35 152.55,516.35 150.30,520.25" fill="none" stroke="#f0862a" stroke-width="0.8" stroke-linejoin="miter"/>
<polygon points="154.35,515.65 158.85,515.65 156.60,519.55" fill="none" stroke="#f0862a" stroke-width="0.8" stroke-linejoin="miter"/>
<polygon points="140.25,518.24 144.75,518.24 142.50,522.14" fill="none" stroke="#f0862a" stroke-width="0.8" stroke-linejoin="miter"/>
<polygon points="148.13,520.07 152.63,520.07 150.38,523.97" fill="none" stroke="#f0862a" stroke-width="0.8" stroke-linejoin="miter"/>
<polygon points="152.60,519.61 157.10,519.61 154.85,523.50" fill="none" stroke="#f0862a" stroke-width="0.8" stroke-linejoin="miter"/>
<polygon points="155.96,519.26 160.46,519.26 158.21,523.16" fill="none" stroke="#f0862a" stroke-width="0.8" stroke-linejoin="miter"/>
<polygon points="141.04,522.02 145.54,522.02 143.29,525.92" fill="none" stroke="#f0862a" stroke-width="0.8" stroke-linejoin="miter"/>
<polygon points="151.46,522.20 155.96,522.20 153.71,526.10" fill="none" stroke="#f0862a" stroke-width="0.8" stroke-linejoin="miter"/>
<polygon points="140.44,525.13 144.94,525.13 142.69,529.03" fill="none" stroke="#f0862a" stroke-width="0.8" stroke-linejoin="miter"/>
<polygon points="156.17,525.30 160.67,525.30 158.42,529.20" fill="none" stroke="#f0862a" stroke-width="0.8" stroke-linejoin="miter"/>
<polygon points="144.90,529.82 149.40,529.82 147.15,533.72" fill="none" stroke="#f0862a" stroke-width="0.8" stroke-linejoin="miter"/>
<polygon points="139.73,533.02 144.23,533.02 141.98,536.92" fill="none" stroke="#f0862a" stroke-width="0.8" stroke-linejoin="miter"/>
<polygon points="143.48,531.69 147.98,531.69 145.73,535.59" fill="none" stroke="#f0862a" stroke-width="0.8" stroke-linejoin="miter"/>
<polygon points="147.57,532.96 152.07,532.96 149.82,536.85" fill="none" stroke="#f0862a" stroke-width="0.8" stroke-linejoin="miter"/>
<polygon points="152.50,531.97 157.00,531.97 154.75,535.87" fill="none" stroke="#f0862a" stroke-width="0.8" stroke-linejoin="miter"/>
<polygon points="155.52,531.73 160.02,531.73 157.77,535.63" fill="none" stroke="#f0862a" stroke-width="0.8" stroke-linejoin="miter"/>
<polygon points="140.67,535.42 145.17,535.42 142.92,539.31" fill="none" stroke="#f0862a" stroke-width="0.8" stroke-linejoin="miter"/>
<polygon points="144.31,538.31 148.81,538.31 146.56,542.21" fill="none" stroke="#f0862a" stroke-width="0.8" stroke-linejoin="miter"/>
<polygon points="144.12,540.46 148.62,540.46 146.37,544.36" fill="none" stroke="#f0862a" stroke-width="0.8" stroke-linejoin="miter"/>
<polygon points="148.18,541.60 152.68,541.60 150.43,545.49" fill="none" stroke="#f0862a" stroke-width="0.8" stroke-linejoin="miter"/>
<polygon points="156.12,541.66 160.62,541.66 158.37,545.56" fill="none" stroke="#f0862a" stroke-width="0.8" stroke-linejoin="miter"/>
<polygon points="141.02,543.58 145.52,543.58 143.27,547.48" fill="none" stroke="#f0862a" stroke-width="0.8" stroke-linejoin="miter"/>
<polygon points="144.31,544.88 148.81,544.88 146.56,548.78" fill="none" stroke="#f0862a" stroke-width="0.8" stroke-linejoin="miter"/>
<polygon points="152.47,544.16 156.97,544.16 154.72,548.06" fill="none" stroke="#f0862a" stroke-width="0.8" stroke-linejoin="miter"/>
<polygon points="155.19,544.99 159.69,544.99 157.44,548.88" fill="none" stroke="#f0862a" stroke-width="0.8" stroke-linejoin="miter"/>
<polygon points="140.71,546.92 145.21,546.92 142.96,550.82" fill="none" stroke="#f0862a" stroke-width="0.8" stroke-linejoin="miter"/>
<polygon points="144.98,546.68 149.48,546.68 147.23,550.58" fill="none" stroke="#f0862a" stroke-width="0.8" stroke-linejoin="miter"/>
<polygon points="148.33,548.39 152.83,548.39 150.58,552.29" fill="none" stroke="#f0862a" stroke-width="0.8" stroke-linejoin="miter"/>
<polygon points="151.85,548.95 156.35,548.95 154.10,552.85" fill="none" stroke="#f0862a" stroke-width="0.8" stroke-linejoin="miter"/>
<polygon points="156.08,548.26 160.58,548.26 158.33,552.15" fill="none" stroke="#f0862a" stroke-width="0.8" stroke-linejoin="miter"/>
<polygon points="143.48,551.71 147.98,551.71 145.73,555.61" fill="none" stroke="#f0862a" stroke-width="0.8" stroke-linejoin="miter"/>
<polygon points="148.50,552.22 153.00,552.22 150.75,556.12" fill="none" stroke="#f0862a" stroke-width="0.8" stroke-linejoin="miter"/>
<polygon points="156.32,550.78 160.82,550.78 158.57,554.67" fill="none" stroke="#f0862a" stroke-width="0.8" stroke-linejoin="miter"/>
<polygon points="140.36,554.62 144.86,554.62 142.61,558.52" fill="none" stroke="#f0862a" stroke-width="0.8" stroke-linejoin="miter"/>
<polygon points="144.33,554.03 148.83,554.03 146.58,557.93" fill="none" stroke="#f0862a" stroke-width="0.8" stroke-linejoin="miter"/>
<polygon points="152.02,553.06 156.52,553.06 154.27,556.96" fill="none" stroke="#f0862a" stroke-width="0.8" stroke-linejoin="miter"/>
<polygon points="156.34,553.57 160.84,553.57 158.59,557.47" fill="none" stroke="#f0862a" stroke-width="0.8" stroke-linejoin="miter"/>
<polygon points="139.54,558.09 144.04,558.09 141.79,561.98" fill="none" stroke="#f0862a" stroke-width="0.8" stroke-linejoin="miter"/>
<polygon points="143.53,556.91 148.03,556.91 145.78,560.81" fill="none" stroke="#f0862a" stroke-width="0.8" stroke-linejoin="miter"/>
<polygon points="156.48,556.43 160.98,556.43 158.73,560.32" fill="none" stroke="#f0862a" stroke-width="0.8" stroke-linejoin="miter"/>
<polygon points="140.31,561.33 144.81,561.33 142.56,565.23" fill="none" stroke="#f0862a" stroke-width="0.8" stroke-linejoin="miter"/>
<polygon points="144.77,560.11 149.27,560.11 147.02,564.01" fill="none" stroke="#f0862a" stroke-width="0.8" stroke-linejoin="miter"/>
<polygon points="154.95,561.05 159.45,561.05 157.20,564.95" fill="none" stroke="#f0862a" stroke-width="0.8" stroke-linejoin="miter"/>
<polygon points="140.62,564.53 145.12,564.53 142.87,568.43" fill="none" stroke="#f0862a" stroke-width="0.8" stroke-linejoin="miter"/>
<polygon points="144.36,564.20 148.86,564.20 146.61,568.09" fill="none" stroke="#f0862a" stroke-width="0.8" stroke-linejoin="miter"/>
<polygon points="152.03,564.50 156.53,564.50 154.28,568.39" fill="none" stroke="#f0862a" stroke-width="0.8" stroke-linejoin="miter"/>
<polygon points="156.33,564.05 160.83,564.05 158.58,567.94" fill="none" stroke="#f0862a" stroke-width="0.8" stroke-linejoin="miter"/>
<polygon points="139.70,567.11 144.20,567.11 141.95,571.00" fill="none" stroke="#f0862a" stroke-width="0.8" stroke-linejoin="miter"/>
<polygon points="143.78,568.11 148.28,568.11 146.03,572.01" fill="none" stroke="#f0862a" stroke-width="0.8" stroke-linejoin="miter"/>
<polygon points="151.17,568.21 155.67,568.21 153.42,572.11" fill="none" stroke="#f0862a" stroke-width="0.8" stroke-linejoin="miter"/>
<polygon points="155.76,567.21 160.26,567.21 158.01,571.11" fill="none" stroke="#f0862a" stroke-width="0.8" stroke-linejoin="miter"/>
<polygon points="144.42,570.28 148.92,570.28 146.67,574.18" fill="none" stroke="#f0862a" stroke-width="0.8" stroke-linejoin="miter"/>
<polygon points="156.22,571.33 160.72,571.33 158.47,575.22" fill="none" stroke="#f0862a" stroke-width="0.8" stroke-linejoin="miter"/>
<polygon points="139.59,572.41 144.09,572.41 141.84,576.31" fill="none" stroke="#f0862a" stroke-width="0.8" stroke-linejoin="miter"/>
<polygon points="148.54,572.72 153.04,572.72 150.79,576.61" fill="none" stroke="#f0862a" stroke-width="0.8" stroke-linejoin="miter"/>
<polygon points="151.31,574.21 155.81,574.21 153.56,578.11" fill="none" stroke="#f0862a" stroke-width="0.8" stroke-linejoin="miter"/>
<polygon points="155.70,574.19 160.20,574.19 157.95,578.09" fill="none" stroke="#f0862a" stroke-width="0.8" stroke-linejoin="miter"/>
<polygon points="139.46,575.49 143.96,575.49 141.71,579.39" fill="none" stroke="#f0862a" stroke-width="0.8" stroke-linejoin="miter"/>
<polygon points="147.38,576.71 151.88,576.71 149.63,580.61" fill="none" stroke="#f0862a" stroke-width="0.8" stroke-linejoin="miter"/>
<polygon points="155.16,575.90 159.66,575.90 157.41,579.79" fill="none" stroke="#f0862a" stroke-width="0.8" stroke-linejoin="miter"/>
<polygon points="140.70,578.85 145.20,578.85 142.95,582.75" fill="none" stroke="#f0862a" stroke-width="0.8" stroke-linejoin="miter"/>
<polygon points="148.14,579.57 152.64,579.57 150.39,583.47" fill="none" stroke="#f0862a" stroke-width="0.8" stroke-linejoin="miter"/>
<polygon points="151.86,579.64 156.36,579.64 154.11,583.54" fill="none" stroke="#f0862a" stroke-width="0.8" stroke-linejoin="miter"/>
<polygon points="155.05,579.05 159.55,579.05 157.30,582.95" fill="none" stroke="#f0862a" stroke-width="0.8" stroke-linejoin="miter"/>
<polygon points="140.23,581.99 144.73,581.99 142.48,585.89" fill="none" stroke="#f0862a" stroke-width="0.8" stroke-linejoin="miter"/>
<polygon points="144.15,582.65 148.65,582.65 146.40,586.54" fill="none" stroke="#f0862a" stroke-width="0.8" stroke-linejoin="miter"/>
<polygon points="148.72,583.00 153.22,583.00 150.97,586.90" fill="none" stroke="#f0862a" stroke-width="0.8" stroke-linejoin="miter"/>
<polygon points="151.97,583.68 156.47,583.68 154.22,587.58" fill="none" stroke="#f0862a" stroke-width="0.8" stroke-linejoin="miter"/>
<polygon points="156.38,583.86 160.88,583.86 158.63,587.76" fill="none" stroke="#f0862a" stroke-width="0.8" stroke-linejoin="miter"/>
<polygon points="139.49,586.02 143.99,586.02 141.74,589.91" fill="none" stroke="#f0862a" stroke-width="0.8" stroke-linejoin="miter"/>
<polygon points="143.72,586.25 148.22,586.25 145.97,590.15" fill="none" stroke="#f0862a" stroke-width="0.8" stroke-linejoin="miter"/>
<polygon points="148.45,586.87 152.95,586.87 150.70,590.77" fill="none" stroke="#f0862a" stroke-width="0.8" stroke-linejoin="miter"/>
<polygon points="155.93,586.25 160.43,586.25 158.18,590.15" fill="none" stroke="#f0862a" stroke-width="0.8" stroke-linejoin="miter"/>
<polygon points="143.73,589.97 148.23,589.97 145.98,593.87" fill="none" stroke="#f0862a" stroke-width="0.8" stroke-linejoin="miter"/>
<polygon points="152.28,590.11 156.78,590.11 154.53,594.01" fill="none" stroke="#f0862a" stroke-width="0.8" stroke-linejoin="miter"/>
<polygon points="155.69,588.39 160.19,588.39 157.94,592.29" fill="none" stroke="#f0862a" stroke-width="0.8" stroke-linejoin="miter"/>
<polygon points="140.67,593.69 145.17,593.69 142.92,597.58" fill="none" stroke="#f0862a" stroke-width="0.8" stroke-linejoin="miter"/>
<polygon points="143.51,592.29 148.01,592.29 145.76,596.19" fill="none" stroke="#f0862a" stroke-width="0.8" stroke-linejoin="miter"/>
<polygon points="152.54,593.33 157.04,593.33 154.79,597.23" fill="none" stroke="#f0862a" stroke-width="0.8" stroke-linejoin="miter"/>
<polygon points="143.77,595.69 148.27,595.69 146.02,599.59" fill="none" stroke="#f0862a" stroke-width="0.8" stroke-linejoin="miter"/>
<polygon points="148.31,595.50 152.81,595.50 150.56,599.40" fill="none" stroke="#f0862a" stroke-width="0.8" stroke-linejoin="miter"/>
<polygon points="155.31,595.18 159.81,595.18 157.56,599.08" fill="none" stroke="#f0862a" stroke-width="0.8" stroke-linejoin="miter"/>
<polygon points="140.65,599.95 145.15,599.95 142.90,603.85" fill="none" stroke="#f0862a" stroke-width="0.8" stroke-linejoin="miter"/>
<polygon points="144.21,597.87 148.71,597.87 146.46,601.77" fill="none" stroke="#f0862a" stroke-width="0.8" stroke-linejoin="miter"/>
<polygon points="147.48,599.51 151.98,599.51 149.73,603.41" fill="none" stroke="#f0862a" stroke-width="0.8" stroke-linejoin="miter"/>
<polygon points="140.11,601.61 144.61,601.61 142.36,605.50" fill="none" stroke="#f0862a" stroke-width="0.8" stroke-linejoin="miter"/>
<polygon points="143.82,602.89 148.32,602.89 146.07,606.79" fill="none" stroke="#f0862a" stroke-width="0.8" stroke-linejoin="miter"/>
<polygon points="148.13,603.14 152.63,603.14 150.38,607.04" fill="none" stroke="#f0862a" stroke-width="0.8" stroke-linejoin="miter"/>
<polygon points="156.11,601.71 160.61,601.71 158.36,605.60" fill="none" stroke="#f0862a" stroke-width="0.8" stroke-linejoin="miter"/>
<polygon points="140.81,604.71 145.31,604.71 143.06,608.61" fill="none" stroke="#f0862a" stroke-width="0.8" stroke-linejoin="miter"/>
<polygon points="144.60,606.29 149.10,606.29 146.85,610.19" fill="none" stroke="#f0862a" stroke-width="0.8" stroke-linejoin="miter"/>
<polygon points="148.40,605.20 152.90,605.20 150.65,609.10" fill="none" stroke="#f0862a" stroke-width="0.8" stroke-linejoin="miter"/>
<polygon points="151.94,604.67 156.44,604.67 154.19,608.56" fill="none" stroke="#f0862a" stroke-width="0.8" stroke-linejoin="miter"/>
<polygon points="155.60,605.80 160.10,605.80 157.85,609.69" fill="none" stroke="#f0862a" stroke-width="0.8" stroke-linejoin="miter"/>
<polygon points="139.80,608.82 144.30,608.82 142.05,612.72" fill="none" stroke="#f0862a" stroke-width="0.8" stroke-linejoin="miter"/>
<polygon points="144.35,609.07 148.85,609.07 146.60,612.97" fill="none" stroke="#f0862a" stroke-width="0.8" stroke-linejoin="miter"/>
<polygon points="148.69,609.77 153.19,609.77 150.94,613.67" fill="none" stroke="#f0862a" stroke-width="0.8" stroke-linejoin="miter"/>
<polygon points="151.15,607.71 155.65,607.71 153.40,611.61" fill="none" stroke="#f0862a" stroke-width="0.8" stroke-linejoin="miter"/>
<polygon points="155.43,609.21 159.93,609.21 157.68,613.11" fill="none" stroke="#f0862a" stroke-width="0.8" stroke-linejoin="miter"/>
<line x1="150.00" y1="549.80" x2="150.00" y2="609.50" stroke="#111" stroke-width="1.1" />
<line x1="145.80" y1="549.80" x2="154.20" y2="549.80" stroke="#111" stroke-width="1.2000000000000002" />
<line x1="141.30" y1="586.10" x2="158.70" y2="586.10" stroke="#111" stroke-width="1.25" />
<line x1="145.80" y1="609.50" x2="154.20" y2="609.50" stroke="#111" stroke-width="1.2000000000000002" />
<circle cx="172.70" cy="495.20" r="2.1" fill="none" stroke="#6a6a6a" stroke-width="0.7"/>
<circle cx="181.10" cy="493.80" r="2.1" fill="none" stroke="#6a6a6a" stroke-width="0.7"/>
<circle cx="183.20" cy="498.40" r="2.1" fill="none" stroke="#6a6a6a" stroke-width="0.7"/>
<circle cx="170.60" cy="499.80" r="2.1" fill="none" stroke="#6a6a6a" stroke-width="0.7"/>
<circle cx="174.60" cy="502.00" r="2.1" fill="none" stroke="#6a6a6a" stroke-width="0.7"/>
<circle cx="179.30" cy="501.20" r="2.1" fill="none" stroke="#6a6a6a" stroke-width="0.7"/>
<circle cx="184.00" cy="502.50" r="2.1" fill="none" stroke="#6a6a6a" stroke-width="0.7"/>
<circle cx="169.50" cy="503.50" r="2.1" fill="none" stroke="#6a6a6a" stroke-width="0.7"/>
<path d="M169.20,503.80 L184.40,503.80 L184.40,613.00 L176.80,619.50 L169.20,613.00 Z" fill="#3c3535"/>
<circle cx="170.40" cy="505.42" r="2.7" fill="#3c3535"/>
<circle cx="183.20" cy="505.42" r="2.7" fill="#3c3535"/>
<circle cx="170.40" cy="511.62" r="2.7" fill="#3c3535"/>
<circle cx="183.20" cy="511.62" r="2.7" fill="#3c3535"/>
<circle cx="170.40" cy="517.82" r="2.7" fill="#3c3535"/>
<circle cx="183.20" cy="517.82" r="2.7" fill="#3c3535"/>
<circle cx="170.40" cy="524.02" r="2.7" fill="#3c3535"/>
<circle cx="183.20" cy="524.02" r="2.7" fill="#3c3535"/>
<circle cx="170.40" cy="530.22" r="2.7" fill="#3c3535"/>
<circle cx="183.20" cy="530.22" r="2.7" fill="#3c3535"/>
<circle cx="170.40" cy="536.42" r="2.7" fill="#3c3535"/>
<circle cx="183.20" cy="536.42" r="2.7" fill="#3c3535"/>
<circle cx="170.40" cy="542.62" r="2.7" fill="#3c3535"/>
<circle cx="183.20" cy="542.62" r="2.7" fill="#3c3535"/>
<circle cx="170.40" cy="548.82" r="2.7" fill="#3c3535"/>
<circle cx="183.20" cy="548.82" r="2.7" fill="#3c3535"/>
<circle cx="170.40" cy="555.02" r="2.7" fill="#3c3535"/>
<circle cx="183.20" cy="555.02" r="2.7" fill="#3c3535"/>
<circle cx="170.40" cy="561.22" r="2.7" fill="#3c3535"/>
<circle cx="183.20" cy="561.22" r="2.7" fill="#3c3535"/>
<circle cx="170.40" cy="567.42" r="2.7" fill="#3c3535"/>
<circle cx="183.20" cy="567.42" r="2.7" fill="#3c3535"/>
<circle cx="170.40" cy="573.62" r="2.7" fill="#3c3535"/>
<circle cx="183.20" cy="573.62" r="2.7" fill="#3c3535"/>
<circle cx="170.40" cy="579.82" r="2.7" fill="#3c3535"/>
<circle cx="183.20" cy="579.82" r="2.7" fill="#3c3535"/>
<circle cx="170.40" cy="586.02" r="2.7" fill="#3c3535"/>
<circle cx="183.20" cy="586.02" r="2.7" fill="#3c3535"/>
<circle cx="170.40" cy="592.22" r="2.7" fill="#3c3535"/>
<circle cx="183.20" cy="592.22" r="2.7" fill="#3c3535"/>
<circle cx="170.40" cy="598.42" r="2.7" fill="#3c3535"/>
<circle cx="183.20" cy="598.42" r="2.7" fill="#3c3535"/>
<circle cx="170.40" cy="604.62" r="2.7" fill="#3c3535"/>
<circle cx="183.20" cy="604.62" r="2.7" fill="#3c3535"/>
<circle cx="170.40" cy="610.82" r="2.7" fill="#3c3535"/>
<circle cx="183.20" cy="610.82" r="2.7" fill="#3c3535"/>
<circle cx="176.80" cy="616.00" r="3.3" fill="#3c3535"/>
<path d="M172.30,507.10 Q176.80,509.90 181.30,507.10" fill="none" stroke="#ffffff" stroke-opacity="0.25" stroke-width="0.7"/>
<path d="M173.30,519.50 Q176.80,522.30 180.30,519.50" fill="none" stroke="#ffffff" stroke-opacity="0.45" stroke-width="0.7"/>
<path d="M174.30,531.90 Q176.80,534.70 179.30,531.90" fill="none" stroke="#ffffff" stroke-opacity="0.65" stroke-width="0.7"/>
<path d="M173.30,544.30 Q176.80,547.10 180.30,544.30" fill="none" stroke="#ffffff" stroke-opacity="0.85" stroke-width="0.7"/>
<path d="M172.30,556.70 Q176.80,559.50 181.30,556.70" fill="none" stroke="#ffffff" stroke-opacity="0.25" stroke-width="0.7"/>
<path d="M173.30,569.10 Q176.80,571.90 180.30,569.10" fill="none" stroke="#ffffff" stroke-opacity="0.85" stroke-width="0.7"/>
<path d="M172.30,581.50 Q176.80,584.30 181.30,581.50" fill="none" stroke="#ffffff" stroke-opacity="0.85" stroke-width="0.7"/>
<path d="M174.30,593.90 Q176.80,596.70 179.30,593.90" fill="none" stroke="#ffffff" stroke-opacity="0.25" stroke-width="0.7"/>
<path d="M172.30,606.30 Q176.80,609.10 181.30,606.30" fill="none" stroke="#ffffff" stroke-opacity="0.25" stroke-width="0.7"/>
<line x1="176.80" y1="555.30" x2="176.80" y2="597.60" stroke="#111" stroke-width="1.1" />
<line x1="172.60" y1="555.30" x2="181.00" y2="555.30" stroke="#111" stroke-width="1.2000000000000002" />
<line x1="168.40" y1="577.30" x2="185.20" y2="577.30" stroke="#111" stroke-width="1.25" />
<line x1="172.60" y1="597.60" x2="181.00" y2="597.60" stroke="#111" stroke-width="1.2000000000000002" />
<text x="209.80" y="473.40" font-size="11" font-weight="bold" fill="#000">H</text>
<line x1="255.40" y1="473.20" x2="255.40" y2="618.80" stroke="#231f20" stroke-width="1.0" />
<line x1="254.90" y1="618.30" x2="397.20" y2="618.30" stroke="#231f20" stroke-width="1.0" />
<line x1="252.40" y1="618.30" x2="255.40" y2="618.30" stroke="#231f20" stroke-width="0.9" />
<text x="249.90" y="620.70" font-size="6.8" text-anchor="end" font-weight="normal" fill="#3a3a3a" >0</text>
<line x1="252.40" y1="589.86" x2="255.40" y2="589.86" stroke="#231f20" stroke-width="0.9" />
<text x="249.90" y="592.26" font-size="6.8" text-anchor="end" font-weight="normal" fill="#3a3a3a" >200</text>
<line x1="252.40" y1="561.42" x2="255.40" y2="561.42" stroke="#231f20" stroke-width="0.9" />
<text x="249.90" y="563.82" font-size="6.8" text-anchor="end" font-weight="normal" fill="#3a3a3a" >400</text>
<line x1="252.40" y1="532.98" x2="255.40" y2="532.98" stroke="#231f20" stroke-width="0.9" />
<text x="249.90" y="535.38" font-size="6.8" text-anchor="end" font-weight="normal" fill="#3a3a3a" >600</text>
<line x1="252.40" y1="504.54" x2="255.40" y2="504.54" stroke="#231f20" stroke-width="0.9" />
<text x="249.90" y="506.94" font-size="6.8" text-anchor="end" font-weight="normal" fill="#3a3a3a" >800</text>
<line x1="252.40" y1="476.10" x2="255.40" y2="476.10" stroke="#231f20" stroke-width="0.9" />
<text x="249.90" y="478.50" font-size="6.8" text-anchor="end" font-weight="normal" fill="#3a3a3a" >1000</text>
<text x="273.50" y="627.30" font-size="6.6" text-anchor="middle" font-weight="normal" fill="#231f20" >A</text>
<text x="299.60" y="627.30" font-size="6.6" text-anchor="middle" font-weight="normal" fill="#231f20" >AB</text>
<text x="325.90" y="627.30" font-size="6.6" text-anchor="middle" font-weight="normal" fill="#231f20" >B</text>
<text x="352.50" y="627.30" font-size="6.6" text-anchor="middle" font-weight="normal" fill="#231f20" >DN</text>
<text x="379.40" y="627.30" font-size="6.6" text-anchor="middle" font-weight="normal" fill="#231f20" textLength="23.5" lengthAdjust="spacingAndGlyphs" >Random</text>
<text x="379.40" y="635.20" font-size="6.6" text-anchor="middle" font-weight="normal" fill="#231f20" >dots</text>
<text transform="translate(228.90,545.80) rotate(-90)" font-size="8.4" text-anchor="middle" fill="#231f20" textLength="131.9" lengthAdjust="spacingAndGlyphs">Distance from cortical bone - diaphysis (µm)</text>
<rect x="270.35" y="603.90" width="1.3" height="1.2" fill="#444"/>
<rect x="272.85" y="603.90" width="1.3" height="1.2" fill="#444"/>
<rect x="275.35" y="603.90" width="1.3" height="1.2" fill="#444"/>
<rect x="295.20" y="563.10" width="1.3" height="1.2" fill="#444"/>
<rect x="297.70" y="563.10" width="1.3" height="1.2" fill="#444"/>
<rect x="300.20" y="563.10" width="1.3" height="1.2" fill="#444"/>
<rect x="302.70" y="563.10" width="1.3" height="1.2" fill="#444"/>
<ellipse cx="272.7" cy="617" rx="8.8" ry="2.2" fill="#c8001f"/>
<circle cx="265.20" cy="616.20" r="1.9" fill="none" stroke="#c32a45" stroke-width="0.7"/>
<circle cx="268.50" cy="616.20" r="1.9" fill="none" stroke="#c32a45" stroke-width="0.7"/>
<circle cx="272.00" cy="616.20" r="1.9" fill="none" stroke="#c32a45" stroke-width="0.7"/>
<circle cx="275.50" cy="616.20" r="1.9" fill="none" stroke="#c32a45" stroke-width="0.7"/>
<circle cx="279.00" cy="616.20" r="1.9" fill="none" stroke="#c32a45" stroke-width="0.7"/>
<circle cx="281.50" cy="616.20" r="1.9" fill="none" stroke="#c32a45" stroke-width="0.7"/>
<line x1="265.00" y1="617.60" x2="281.00" y2="617.60" stroke="#111" stroke-width="1.1" />
<path d="M291.20,613.30 Q299.60,616.50 308.00,613.30 Q308.50,618.30 303.38,618.90 L295.82,618.90 Q290.70,618.30 291.20,613.30 Z" fill="#4a1490"/>
<polygon points="297.35,576.25 301.85,576.25 299.60,572.35" fill="none" stroke="#6a3d9d" stroke-width="0.8" stroke-linejoin="miter"/>
<polygon points="297.35,606.35 301.85,606.35 299.60,602.45" fill="none" stroke="#6a3d9d" stroke-width="0.8" stroke-linejoin="miter"/>
<line x1="292.00" y1="617.40" x2="307.00" y2="617.40" stroke="#111" stroke-width="1.1" />
<rect x="324.00" y="575.30" width="3.8" height="3.8" fill="none" stroke="#4a77c6" stroke-width="0.8"/>
<rect x="317.10" y="585.20" width="3.8" height="3.8" fill="none" stroke="#4a77c6" stroke-width="0.8"/>
<rect x="322.00" y="586.90" width="3.8" height="3.8" fill="none" stroke="#4a77c6" stroke-width="0.8"/>
<rect x="326.60" y="586.20" width="3.8" height="3.8" fill="none" stroke="#4a77c6" stroke-width="0.8"/>
<rect x="331.00" y="583.90" width="3.8" height="3.8" fill="none" stroke="#4a77c6" stroke-width="0.8"/>
<rect x="324.00" y="602.50" width="3.8" height="3.8" fill="none" stroke="#4a77c6" stroke-width="0.8"/>
<rect x="317.10" y="611.60" width="3.8" height="3.8" fill="none" stroke="#4a77c6" stroke-width="0.8"/>
<rect x="320.60" y="615.10" width="3.8" height="3.8" fill="none" stroke="#4a77c6" stroke-width="0.8"/>
<rect x="326.60" y="615.10" width="3.8" height="3.8" fill="none" stroke="#4a77c6" stroke-width="0.8"/>
<rect x="331.00" y="614.60" width="3.8" height="3.8" fill="none" stroke="#4a77c6" stroke-width="0.8"/>
<line x1="325.90" y1="587.10" x2="325.90" y2="617.50" stroke="#111" stroke-width="1.1" />
<line x1="321.90" y1="587.10" x2="329.90" y2="587.10" stroke="#111" stroke-width="1.2000000000000002" />
<line x1="317.20" y1="604.40" x2="334.60" y2="604.40" stroke="#111" stroke-width="1.25" />
<line x1="321.90" y1="617.50" x2="329.90" y2="617.50" stroke="#111" stroke-width="1.2000000000000002" />
<polygon points="350.25,561.35 354.75,561.35 352.50,565.25" fill="none" stroke="#f0862a" stroke-width="0.8" stroke-linejoin="miter"/>
<polygon points="350.25,581.95 354.75,581.95 352.50,585.85" fill="none" stroke="#f0862a" stroke-width="0.8" stroke-linejoin="miter"/>
<polygon points="346.15,614.55 350.65,614.55 348.40,618.45" fill="none" stroke="#f0862a" stroke-width="0.8" stroke-linejoin="miter"/>
<polygon points="354.45,614.55 358.95,614.55 356.70,618.45" fill="none" stroke="#f0862a" stroke-width="0.8" stroke-linejoin="miter"/>
<line x1="352.50" y1="568.80" x2="352.50" y2="617.50" stroke="#111" stroke-width="1.1" />
<line x1="348.50" y1="568.80" x2="356.50" y2="568.80" stroke="#111" stroke-width="1.2000000000000002" />
<line x1="343.90" y1="601.10" x2="361.10" y2="601.10" stroke="#111" stroke-width="1.25" />
<line x1="348.50" y1="617.50" x2="356.50" y2="617.50" stroke="#111" stroke-width="1.2000000000000002" />
<path d="M371.80,557.00 L379.40,560.50 L387.00,557.00 L387.00,612.60 L379.40,619.10 L371.80,612.60 Z" fill="#3c3535"/>
<circle cx="373.10" cy="558.68" r="2.8" fill="#3c3535"/>
<circle cx="385.70" cy="558.68" r="2.8" fill="#3c3535"/>
<circle cx="373.10" cy="564.68" r="2.8" fill="#3c3535"/>
<circle cx="385.70" cy="564.68" r="2.8" fill="#3c3535"/>
<circle cx="373.10" cy="570.68" r="2.8" fill="#3c3535"/>
<circle cx="385.70" cy="570.68" r="2.8" fill="#3c3535"/>
<circle cx="373.10" cy="576.68" r="2.8" fill="#3c3535"/>
<circle cx="385.70" cy="576.68" r="2.8" fill="#3c3535"/>
<circle cx="373.10" cy="582.68" r="2.8" fill="#3c3535"/>
<circle cx="385.70" cy="582.68" r="2.8" fill="#3c3535"/>
<circle cx="373.10" cy="588.68" r="2.8" fill="#3c3535"/>
<circle cx="385.70" cy="588.68" r="2.8" fill="#3c3535"/>
<circle cx="373.10" cy="594.68" r="2.8" fill="#3c3535"/>
<circle cx="385.70" cy="594.68" r="2.8" fill="#3c3535"/>
<circle cx="373.10" cy="600.68" r="2.8" fill="#3c3535"/>
<circle cx="385.70" cy="600.68" r="2.8" fill="#3c3535"/>
<circle cx="373.10" cy="606.68" r="2.8" fill="#3c3535"/>
<circle cx="385.70" cy="606.68" r="2.8" fill="#3c3535"/>
<circle cx="373.10" cy="612.68" r="2.8" fill="#3c3535"/>
<circle cx="385.70" cy="612.68" r="2.8" fill="#3c3535"/>
<circle cx="379.40" cy="615.60" r="3.3" fill="#3c3535"/>
<path d="M375.90,560.30 Q379.40,563.10 382.90,560.30" fill="none" stroke="#ffffff" stroke-opacity="0.85" stroke-width="0.7"/>
<path d="M374.90,572.30 Q379.40,575.10 383.90,572.30" fill="none" stroke="#ffffff" stroke-opacity="0.25" stroke-width="0.7"/>
<path d="M376.90,584.30 Q379.40,587.10 381.90,584.30" fill="none" stroke="#ffffff" stroke-opacity="0.85" stroke-width="0.7"/>
<path d="M375.90,596.30 Q379.40,599.10 382.90,596.30" fill="none" stroke="#ffffff" stroke-opacity="0.25" stroke-width="0.7"/>
<path d="M374.90,608.30 Q379.40,611.10 383.90,608.30" fill="none" stroke="#ffffff" stroke-opacity="0.45" stroke-width="0.7"/>
<circle cx="372.50" cy="554.20" r="2.2" fill="#9a9a9a" stroke="#4a4a4a" stroke-width="0.7"/>
<circle cx="386.30" cy="554.20" r="2.2" fill="#9a9a9a" stroke="#4a4a4a" stroke-width="0.7"/>
<circle cx="373.88" cy="555.02" r="2.2" fill="#9a9a9a" stroke="#4a4a4a" stroke-width="0.7"/>
<circle cx="384.92" cy="555.02" r="2.2" fill="#9a9a9a" stroke="#4a4a4a" stroke-width="0.7"/>
<circle cx="375.26" cy="555.84" r="2.2" fill="#9a9a9a" stroke="#4a4a4a" stroke-width="0.7"/>
<circle cx="383.54" cy="555.84" r="2.2" fill="#9a9a9a" stroke="#4a4a4a" stroke-width="0.7"/>
<circle cx="376.64" cy="556.66" r="2.2" fill="#9a9a9a" stroke="#4a4a4a" stroke-width="0.7"/>
<circle cx="382.16" cy="556.66" r="2.2" fill="#9a9a9a" stroke="#4a4a4a" stroke-width="0.7"/>
<circle cx="378.02" cy="557.48" r="2.2" fill="#9a9a9a" stroke="#4a4a4a" stroke-width="0.7"/>
<circle cx="380.78" cy="557.48" r="2.2" fill="#9a9a9a" stroke="#4a4a4a" stroke-width="0.7"/>
<circle cx="379.40" cy="558.30" r="2.2" fill="#9a9a9a" stroke="#4a4a4a" stroke-width="0.7"/>
<circle cx="379.40" cy="558.30" r="2.2" fill="#9a9a9a" stroke="#4a4a4a" stroke-width="0.7"/>
<line x1="379.40" y1="585.40" x2="379.40" y2="609.20" stroke="#111" stroke-width="1.1" />
<line x1="375.40" y1="585.40" x2="383.40" y2="585.40" stroke="#111" stroke-width="1.2000000000000002" />
<line x1="371.00" y1="597.90" x2="387.80" y2="597.90" stroke="#111" stroke-width="1.25" />
<line x1="375.40" y1="609.20" x2="383.40" y2="609.20" stroke="#111" stroke-width="1.2000000000000002" />
</svg>
</body></html>
